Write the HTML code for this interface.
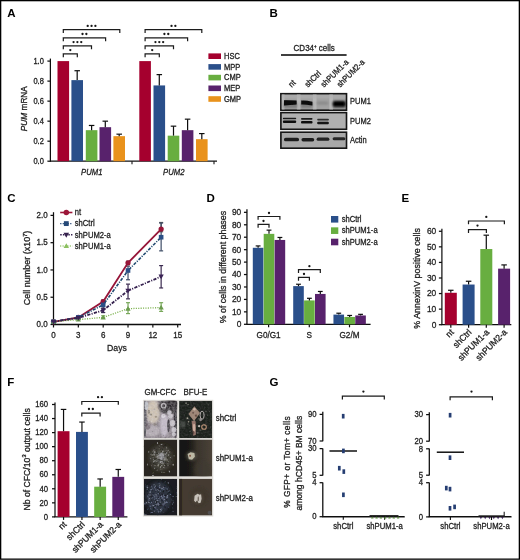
<!DOCTYPE html>
<html><head><meta charset="utf-8"><style>html,body{margin:0;padding:0;background:#fff;}svg{display:block;}</style></head>
<body>
<svg width="520" height="560" viewBox="0 0 520 560" font-family='"Liberation Sans", sans-serif'>
<defs><filter id="b05" x="-50%" y="-50%" width="200%" height="200%"><feGaussianBlur stdDeviation="0.45"/></filter><filter id="b1" x="-50%" y="-50%" width="200%" height="200%"><feGaussianBlur stdDeviation="0.7"/></filter><filter id="b12" x="-50%" y="-50%" width="200%" height="200%"><feGaussianBlur stdDeviation="0.85"/></filter><filter id="b15" x="-50%" y="-50%" width="200%" height="200%"><feGaussianBlur stdDeviation="1.1"/></filter><filter id="b2" x="-50%" y="-50%" width="200%" height="200%"><feGaussianBlur stdDeviation="1.6"/></filter><filter id="b3" x="-50%" y="-50%" width="200%" height="200%"><feGaussianBlur stdDeviation="3"/></filter><filter id="nz" x="0" y="0" width="100%" height="100%"><feTurbulence type="fractalNoise" baseFrequency="0.45" numOctaves="2" seed="5"/><feColorMatrix type="matrix" values="0 0 0 0 0.5  0 0 0 0 0.48  0 0 0 0 0.5  1.6 0 0 0 -0.55"/></filter><filter id="nz2" x="0" y="0" width="100%" height="100%"><feTurbulence type="fractalNoise" baseFrequency="0.5" numOctaves="2" seed="9"/><feColorMatrix type="matrix" values="0 0 0 0 0.92  0 0 0 0 0.9  0 0 0 0 0.92  1.6 0 0 0 -0.62"/></filter><filter id="gb" x="0" y="0" width="520" height="560" filterUnits="userSpaceOnUse"><feGaussianBlur stdDeviation="0.35"/></filter></defs>
<rect x="0.00" y="0.00" width="520.00" height="560.00" fill="#fff" />
<g filter="url(#gb)">
<text x="7.30" y="16.90" font-size="11.5" text-anchor="start" fill="#000" font-weight="bold" >A</text>
<line x1="50.40" y1="58.60" x2="50.40" y2="161.70" stroke="#111" stroke-width="1.25" />
<line x1="47.40" y1="161.20" x2="50.40" y2="161.20" stroke="#111" stroke-width="1.25" />
<text transform="translate(43.80,163.80) scale(0.885,1)" font-size="8.47" text-anchor="end" fill="#1e1e1e" stroke="#1e1e1e" stroke-width="0.3" >0.0</text>
<line x1="47.40" y1="141.18" x2="50.40" y2="141.18" stroke="#111" stroke-width="1.25" />
<text transform="translate(43.80,143.78) scale(0.885,1)" font-size="8.47" text-anchor="end" fill="#1e1e1e" stroke="#1e1e1e" stroke-width="0.3" >0.2</text>
<line x1="47.40" y1="121.16" x2="50.40" y2="121.16" stroke="#111" stroke-width="1.25" />
<text transform="translate(43.80,123.76) scale(0.885,1)" font-size="8.47" text-anchor="end" fill="#1e1e1e" stroke="#1e1e1e" stroke-width="0.3" >0.4</text>
<line x1="47.40" y1="101.14" x2="50.40" y2="101.14" stroke="#111" stroke-width="1.25" />
<text transform="translate(43.80,103.74) scale(0.885,1)" font-size="8.47" text-anchor="end" fill="#1e1e1e" stroke="#1e1e1e" stroke-width="0.3" >0.6</text>
<line x1="47.40" y1="81.12" x2="50.40" y2="81.12" stroke="#111" stroke-width="1.25" />
<text transform="translate(43.80,83.72) scale(0.885,1)" font-size="8.47" text-anchor="end" fill="#1e1e1e" stroke="#1e1e1e" stroke-width="0.3" >0.8</text>
<line x1="47.40" y1="61.10" x2="50.40" y2="61.10" stroke="#111" stroke-width="1.25" />
<text transform="translate(43.80,63.70) scale(0.885,1)" font-size="8.47" text-anchor="end" fill="#1e1e1e" stroke="#1e1e1e" stroke-width="0.3" >1.0</text>
<line x1="49.90" y1="161.20" x2="217.00" y2="161.20" stroke="#111" stroke-width="1.3" />
<line x1="132.00" y1="161.20" x2="132.00" y2="164.20" stroke="#111" stroke-width="1.1" />
<line x1="214.00" y1="161.20" x2="214.00" y2="164.20" stroke="#111" stroke-width="1.1" />
<text transform="translate(91.80,174.50) scale(0.885,1)" font-size="8.70" text-anchor="middle" fill="#1e1e1e" stroke="#1e1e1e" stroke-width="0.3" font-style="italic">PUM1</text>
<text transform="translate(173.80,174.50) scale(0.885,1)" font-size="8.70" text-anchor="middle" fill="#1e1e1e" stroke="#1e1e1e" stroke-width="0.3" font-style="italic">PUM2</text>
<rect x="57.50" y="61.10" width="11.60" height="100.10" fill="#a5062e" />
<rect x="71.40" y="80.12" width="11.60" height="81.08" fill="#2c508a" />
<line x1="77.20" y1="80.12" x2="77.20" y2="70.71" stroke="#111" stroke-width="1.2" />
<line x1="74.45" y1="70.71" x2="79.95" y2="70.71" stroke="#111" stroke-width="1.2" />
<rect x="85.80" y="130.17" width="11.60" height="31.03" fill="#67ae3f" />
<line x1="91.60" y1="130.17" x2="91.60" y2="125.46" stroke="#111" stroke-width="1.2" />
<line x1="88.85" y1="125.46" x2="94.35" y2="125.46" stroke="#111" stroke-width="1.2" />
<rect x="99.50" y="127.17" width="11.60" height="34.03" fill="#59246c" />
<line x1="105.30" y1="127.17" x2="105.30" y2="121.16" stroke="#111" stroke-width="1.2" />
<line x1="102.55" y1="121.16" x2="108.05" y2="121.16" stroke="#111" stroke-width="1.2" />
<rect x="113.40" y="136.17" width="11.60" height="25.03" fill="#e9921a" />
<line x1="119.20" y1="136.17" x2="119.20" y2="134.17" stroke="#111" stroke-width="1.2" />
<line x1="116.45" y1="134.17" x2="121.95" y2="134.17" stroke="#111" stroke-width="1.2" />
<rect x="139.30" y="61.10" width="11.60" height="100.10" fill="#a5062e" />
<rect x="153.50" y="85.42" width="11.60" height="75.78" fill="#2c508a" />
<line x1="159.30" y1="85.42" x2="159.30" y2="74.61" stroke="#111" stroke-width="1.2" />
<line x1="156.55" y1="74.61" x2="162.05" y2="74.61" stroke="#111" stroke-width="1.2" />
<rect x="167.70" y="135.67" width="11.60" height="25.53" fill="#67ae3f" />
<line x1="173.50" y1="135.67" x2="173.50" y2="126.16" stroke="#111" stroke-width="1.2" />
<line x1="170.75" y1="126.16" x2="176.25" y2="126.16" stroke="#111" stroke-width="1.2" />
<rect x="181.80" y="130.17" width="11.60" height="31.03" fill="#59246c" />
<line x1="187.60" y1="130.17" x2="187.60" y2="119.16" stroke="#111" stroke-width="1.2" />
<line x1="184.85" y1="119.16" x2="190.35" y2="119.16" stroke="#111" stroke-width="1.2" />
<rect x="196.00" y="139.18" width="11.60" height="22.02" fill="#e9921a" />
<line x1="201.80" y1="139.18" x2="201.80" y2="133.57" stroke="#111" stroke-width="1.2" />
<line x1="199.05" y1="133.57" x2="204.55" y2="133.57" stroke="#111" stroke-width="1.2" />
<path d="M63.30 57.30 V53.90 H77.30 V57.30" fill="none" stroke="#1a1a1a" stroke-width="1.2"/>
<circle cx="70.30" cy="50.10" r="1.15" fill="#151515"/>
<path d="M63.30 49.30 V45.90 H91.50 V49.30" fill="none" stroke="#1a1a1a" stroke-width="1.2"/>
<circle cx="73.55" cy="42.10" r="1.15" fill="#151515"/>
<circle cx="77.40" cy="42.10" r="1.15" fill="#151515"/>
<circle cx="81.25" cy="42.10" r="1.15" fill="#151515"/>
<path d="M63.30 41.20 V37.80 H105.60 V41.20" fill="none" stroke="#1a1a1a" stroke-width="1.2"/>
<circle cx="82.52" cy="34.00" r="1.15" fill="#151515"/>
<circle cx="86.37" cy="34.00" r="1.15" fill="#151515"/>
<path d="M63.30 33.10 V29.70 H119.80 V33.10" fill="none" stroke="#1a1a1a" stroke-width="1.2"/>
<circle cx="87.70" cy="25.90" r="1.15" fill="#151515"/>
<circle cx="91.55" cy="25.90" r="1.15" fill="#151515"/>
<circle cx="95.40" cy="25.90" r="1.15" fill="#151515"/>
<path d="M145.10 57.30 V53.90 H159.30 V57.30" fill="none" stroke="#1a1a1a" stroke-width="1.2"/>
<circle cx="152.20" cy="50.10" r="1.15" fill="#151515"/>
<path d="M145.10 49.30 V45.90 H173.50 V49.30" fill="none" stroke="#1a1a1a" stroke-width="1.2"/>
<circle cx="155.45" cy="42.10" r="1.15" fill="#151515"/>
<circle cx="159.30" cy="42.10" r="1.15" fill="#151515"/>
<circle cx="163.15" cy="42.10" r="1.15" fill="#151515"/>
<path d="M145.10 41.20 V37.80 H187.60 V41.20" fill="none" stroke="#1a1a1a" stroke-width="1.2"/>
<circle cx="164.42" cy="34.00" r="1.15" fill="#151515"/>
<circle cx="168.27" cy="34.00" r="1.15" fill="#151515"/>
<path d="M145.10 33.10 V29.70 H201.80 V33.10" fill="none" stroke="#1a1a1a" stroke-width="1.2"/>
<circle cx="171.52" cy="25.90" r="1.15" fill="#151515"/>
<circle cx="175.37" cy="25.90" r="1.15" fill="#151515"/>
<text transform="translate(27.00,108.70) rotate(-90) scale(1.0,1)" font-size="8.30" text-anchor="middle" fill="#1e1e1e" stroke="#1e1e1e" stroke-width="0.3"><tspan font-style="italic">PUM</tspan> mRNA</text>
<rect x="208.40" y="53.40" width="12.60" height="5.60" fill="#a5062e" />
<text transform="translate(224.00,58.90) scale(0.885,1)" font-size="8.47" text-anchor="start" fill="#1e1e1e" stroke="#1e1e1e" stroke-width="0.3" >HSC</text>
<rect x="208.40" y="64.10" width="12.60" height="5.60" fill="#2c508a" />
<text transform="translate(224.00,69.60) scale(0.885,1)" font-size="8.47" text-anchor="start" fill="#1e1e1e" stroke="#1e1e1e" stroke-width="0.3" >MPP</text>
<rect x="208.40" y="74.80" width="12.60" height="5.60" fill="#67ae3f" />
<text transform="translate(224.00,80.30) scale(0.885,1)" font-size="8.47" text-anchor="start" fill="#1e1e1e" stroke="#1e1e1e" stroke-width="0.3" >CMP</text>
<rect x="208.40" y="85.50" width="12.60" height="5.60" fill="#59246c" />
<text transform="translate(224.00,91.00) scale(0.885,1)" font-size="8.47" text-anchor="start" fill="#1e1e1e" stroke="#1e1e1e" stroke-width="0.3" >MEP</text>
<rect x="208.40" y="96.20" width="12.60" height="5.60" fill="#e9921a" />
<text transform="translate(224.00,101.70) scale(0.885,1)" font-size="8.47" text-anchor="start" fill="#1e1e1e" stroke="#1e1e1e" stroke-width="0.3" >GMP</text>
<text x="269.60" y="16.90" font-size="11.5" text-anchor="start" fill="#000" font-weight="bold" >B</text>
<text transform="translate(293.60,51.20) rotate(0) scale(0.885,1)" font-size="9.04" text-anchor="start" fill="#1e1e1e" stroke="#1e1e1e" stroke-width="0.3">CD34<tspan font-size="5" dy="-3">+</tspan><tspan dy="3"> cells</tspan></text>
<line x1="281.00" y1="55.10" x2="346.60" y2="55.10" stroke="#000" stroke-width="1.5" />
<text transform="translate(291.80,87.80) rotate(-45) scale(0.885,1)" font-size="8.47" text-anchor="start" fill="#1e1e1e" stroke="#1e1e1e" stroke-width="0.3">nt</text>
<text transform="translate(307.90,87.80) rotate(-45) scale(0.885,1)" font-size="8.47" text-anchor="start" fill="#1e1e1e" stroke="#1e1e1e" stroke-width="0.3">shCtrl</text>
<text transform="translate(324.10,87.80) rotate(-45) scale(0.885,1)" font-size="8.47" text-anchor="start" fill="#1e1e1e" stroke="#1e1e1e" stroke-width="0.3">shPUM1-a</text>
<text transform="translate(340.20,87.80) rotate(-45) scale(0.885,1)" font-size="8.47" text-anchor="start" fill="#1e1e1e" stroke="#1e1e1e" stroke-width="0.3">shPUM2-a</text>
<rect x="280.90" y="93.70" width="65.60" height="16.50" fill="#a2a2a2" stroke="#121212" stroke-width="1.6"/>
<svg x="281.7" y="94.5" width="64" height="14.9" overflow="hidden">
<rect x="-0.80" y="-2.00" width="3.60" height="20.00" fill="#bdbdbd" opacity="0.8" filter="url(#b1)"/>
<rect x="15.20" y="-2.00" width="3.60" height="20.00" fill="#bdbdbd" opacity="0.8" filter="url(#b1)"/>
<rect x="31.20" y="-2.00" width="3.60" height="20.00" fill="#bdbdbd" opacity="0.8" filter="url(#b1)"/>
<rect x="47.60" y="-2.00" width="3.60" height="20.00" fill="#bdbdbd" opacity="0.8" filter="url(#b1)"/>
<rect x="0.00" y="0.00" width="64.00" height="4.00" fill="#b0b0b0" opacity="0.5" filter="url(#b1)"/>
<rect x="2.00" y="8.00" width="13.50" height="5.50" fill="#6e6e6e" opacity="0.75" filter="url(#b15)"/>
<rect x="19.30" y="8.00" width="11.50" height="5.50" fill="#6e6e6e" opacity="0.75" filter="url(#b15)"/>
<rect x="51.30" y="8.00" width="12.50" height="5.50" fill="#6e6e6e" opacity="0.75" filter="url(#b15)"/>
</svg>
<path d="M284 100.2 Q290 100.0 296.6 100.6 L296.6 104.4 Q290 104.8 284 105.6 Z" fill="#080808" filter="url(#b1)"/>
<path d="M301.2 100.6 Q306 100.2 312.4 101.8 L312.4 105.4 Q306 104.8 301.2 104.6 Z" fill="#0e0e0e" filter="url(#b1)"/>
<rect x="316.80" y="101.60" width="11.60" height="3.20" rx="1.30" fill="#8a8a8a" opacity="1" filter="url(#b12)"/>
<rect x="332.80" y="100.90" width="12.80" height="5.80" rx="2.00" fill="#000000" opacity="1" filter="url(#b12)"/>
<rect x="280.90" y="112.60" width="65.60" height="16.70" fill="#b0b0b0" stroke="#121212" stroke-width="1.6"/>
<rect x="282.90" y="117.65" width="13.30" height="1.70" rx="0.80" fill="#1a1a1a" opacity="1" filter="url(#b1)"/>
<rect x="282.90" y="120.50" width="13.30" height="2.60" rx="1.00" fill="#0a0a0a" opacity="1" filter="url(#b1)"/>
<rect x="301.00" y="118.05" width="11.50" height="1.70" rx="0.80" fill="#1e1e1e" opacity="1" filter="url(#b1)"/>
<rect x="301.00" y="120.90" width="11.50" height="2.60" rx="1.00" fill="#0e0e0e" opacity="1" filter="url(#b1)"/>
<rect x="317.20" y="118.85" width="11.70" height="1.70" rx="0.80" fill="#2e2e2e" opacity="1" filter="url(#b1)"/>
<rect x="317.20" y="121.70" width="11.70" height="2.60" rx="1.00" fill="#161616" opacity="1" filter="url(#b1)"/>
<rect x="280.90" y="132.20" width="65.60" height="16.00" fill="#a8a8a8" stroke="#121212" stroke-width="1.6"/>
<rect x="284.00" y="137.70" width="15.00" height="3.60" rx="1.60" fill="#1e1e1e" opacity="1" filter="url(#b1)"/>
<rect x="301.50" y="137.95" width="12.70" height="3.50" rx="1.60" fill="#1e1e1e" opacity="1" filter="url(#b1)"/>
<rect x="316.60" y="137.55" width="12.80" height="3.30" rx="1.60" fill="#222222" opacity="1" filter="url(#b1)"/>
<rect x="332.60" y="137.15" width="12.80" height="3.10" rx="1.50" fill="#262626" opacity="1" filter="url(#b1)"/>
<text transform="translate(350.00,104.40) scale(0.885,1)" font-size="8.47" text-anchor="start" fill="#1e1e1e" stroke="#1e1e1e" stroke-width="0.3" >PUM1</text>
<text transform="translate(350.00,123.80) scale(0.885,1)" font-size="8.47" text-anchor="start" fill="#1e1e1e" stroke="#1e1e1e" stroke-width="0.3" >PUM2</text>
<text transform="translate(350.00,142.50) scale(0.885,1)" font-size="8.47" text-anchor="start" fill="#1e1e1e" stroke="#1e1e1e" stroke-width="0.3" >Actin</text>
<text x="7.30" y="202.30" font-size="11.5" text-anchor="start" fill="#000" font-weight="bold" >C</text>
<line x1="53.50" y1="212.20" x2="53.50" y2="324.50" stroke="#111" stroke-width="1.25" />
<line x1="50.50" y1="324.50" x2="53.50" y2="324.50" stroke="#111" stroke-width="1.25" />
<text transform="translate(47.60,327.30) scale(0.885,1)" font-size="9.04" text-anchor="end" fill="#1e1e1e" stroke="#1e1e1e" stroke-width="0.3" >0.0</text>
<line x1="50.50" y1="297.23" x2="53.50" y2="297.23" stroke="#111" stroke-width="1.25" />
<text transform="translate(47.60,300.03) scale(0.885,1)" font-size="9.04" text-anchor="end" fill="#1e1e1e" stroke="#1e1e1e" stroke-width="0.3" >0.5</text>
<line x1="50.50" y1="269.95" x2="53.50" y2="269.95" stroke="#111" stroke-width="1.25" />
<text transform="translate(47.60,272.75) scale(0.885,1)" font-size="9.04" text-anchor="end" fill="#1e1e1e" stroke="#1e1e1e" stroke-width="0.3" >1.0</text>
<line x1="50.50" y1="242.68" x2="53.50" y2="242.68" stroke="#111" stroke-width="1.25" />
<text transform="translate(47.60,245.48) scale(0.885,1)" font-size="9.04" text-anchor="end" fill="#1e1e1e" stroke="#1e1e1e" stroke-width="0.3" >1.5</text>
<line x1="50.50" y1="215.40" x2="53.50" y2="215.40" stroke="#111" stroke-width="1.25" />
<text transform="translate(47.60,218.20) scale(0.885,1)" font-size="9.04" text-anchor="end" fill="#1e1e1e" stroke="#1e1e1e" stroke-width="0.3" >2.0</text>
<line x1="52.90" y1="324.50" x2="181.00" y2="324.50" stroke="#111" stroke-width="1.3" />
<line x1="53.50" y1="324.50" x2="53.50" y2="327.50" stroke="#111" stroke-width="1.2" />
<text transform="translate(53.50,337.80) scale(0.885,1)" font-size="9.04" text-anchor="middle" fill="#1e1e1e" stroke="#1e1e1e" stroke-width="0.3" >0</text>
<line x1="78.34" y1="324.50" x2="78.34" y2="327.50" stroke="#111" stroke-width="1.2" />
<text transform="translate(78.34,337.80) scale(0.885,1)" font-size="9.04" text-anchor="middle" fill="#1e1e1e" stroke="#1e1e1e" stroke-width="0.3" >3</text>
<line x1="103.18" y1="324.50" x2="103.18" y2="327.50" stroke="#111" stroke-width="1.2" />
<text transform="translate(103.18,337.80) scale(0.885,1)" font-size="9.04" text-anchor="middle" fill="#1e1e1e" stroke="#1e1e1e" stroke-width="0.3" >6</text>
<line x1="128.02" y1="324.50" x2="128.02" y2="327.50" stroke="#111" stroke-width="1.2" />
<text transform="translate(128.02,337.80) scale(0.885,1)" font-size="9.04" text-anchor="middle" fill="#1e1e1e" stroke="#1e1e1e" stroke-width="0.3" >9</text>
<line x1="152.86" y1="324.50" x2="152.86" y2="327.50" stroke="#111" stroke-width="1.2" />
<text transform="translate(152.86,337.80) scale(0.885,1)" font-size="9.04" text-anchor="middle" fill="#1e1e1e" stroke="#1e1e1e" stroke-width="0.3" >12</text>
<line x1="177.70" y1="324.50" x2="177.70" y2="327.50" stroke="#111" stroke-width="1.2" />
<text transform="translate(177.70,337.80) scale(0.885,1)" font-size="9.04" text-anchor="middle" fill="#1e1e1e" stroke="#1e1e1e" stroke-width="0.3" >15</text>
<text transform="translate(117.00,351.30) scale(0.885,1)" font-size="9.83" text-anchor="middle" fill="#1e1e1e" stroke="#1e1e1e" stroke-width="0.3" >Days</text>
<text transform="translate(30.40,268.00) rotate(-90) scale(1.0,1)" font-size="9.00" text-anchor="middle" fill="#1e1e1e" stroke="#1e1e1e" stroke-width="0.3">Cell number (x10<tspan font-size="5.6" dy="-3.6">7</tspan><tspan dy="3.6">)</tspan></text>
<line x1="103.18" y1="302.68" x2="103.18" y2="299.95" stroke="#555" stroke-width="1.2" />
<line x1="101.18" y1="302.68" x2="105.18" y2="302.68" stroke="#555" stroke-width="1.2" />
<line x1="101.18" y1="299.95" x2="105.18" y2="299.95" stroke="#555" stroke-width="1.2" />
<line x1="128.02" y1="264.50" x2="128.02" y2="261.22" stroke="#555" stroke-width="1.2" />
<line x1="126.02" y1="264.50" x2="130.02" y2="264.50" stroke="#555" stroke-width="1.2" />
<line x1="126.02" y1="261.22" x2="130.02" y2="261.22" stroke="#555" stroke-width="1.2" />
<line x1="161.14" y1="231.76" x2="161.14" y2="222.49" stroke="#555" stroke-width="1.2" />
<line x1="159.14" y1="231.76" x2="163.14" y2="231.76" stroke="#555" stroke-width="1.2" />
<line x1="159.14" y1="222.49" x2="163.14" y2="222.49" stroke="#555" stroke-width="1.2" />
<line x1="103.18" y1="312.50" x2="103.18" y2="300.50" stroke="#3e4c66" stroke-width="1.2" />
<line x1="101.18" y1="312.50" x2="105.18" y2="312.50" stroke="#3e4c66" stroke-width="1.2" />
<line x1="101.18" y1="300.50" x2="105.18" y2="300.50" stroke="#3e4c66" stroke-width="1.2" />
<line x1="128.02" y1="279.77" x2="128.02" y2="266.13" stroke="#3e4c66" stroke-width="1.2" />
<line x1="126.02" y1="279.77" x2="130.02" y2="279.77" stroke="#3e4c66" stroke-width="1.2" />
<line x1="126.02" y1="266.13" x2="130.02" y2="266.13" stroke="#3e4c66" stroke-width="1.2" />
<line x1="161.14" y1="250.86" x2="161.14" y2="223.04" stroke="#3e4c66" stroke-width="1.2" />
<line x1="159.14" y1="250.86" x2="163.14" y2="250.86" stroke="#3e4c66" stroke-width="1.2" />
<line x1="159.14" y1="223.04" x2="163.14" y2="223.04" stroke="#3e4c66" stroke-width="1.2" />
<line x1="103.18" y1="317.95" x2="103.18" y2="315.77" stroke="#78a85a" stroke-width="1.2" />
<line x1="101.18" y1="317.95" x2="105.18" y2="317.95" stroke="#78a85a" stroke-width="1.2" />
<line x1="101.18" y1="315.77" x2="105.18" y2="315.77" stroke="#78a85a" stroke-width="1.2" />
<line x1="128.02" y1="313.59" x2="128.02" y2="302.68" stroke="#78a85a" stroke-width="1.2" />
<line x1="126.02" y1="313.59" x2="130.02" y2="313.59" stroke="#78a85a" stroke-width="1.2" />
<line x1="126.02" y1="302.68" x2="130.02" y2="302.68" stroke="#78a85a" stroke-width="1.2" />
<line x1="161.14" y1="311.41" x2="161.14" y2="302.68" stroke="#78a85a" stroke-width="1.2" />
<line x1="159.14" y1="311.41" x2="163.14" y2="311.41" stroke="#78a85a" stroke-width="1.2" />
<line x1="159.14" y1="302.68" x2="163.14" y2="302.68" stroke="#78a85a" stroke-width="1.2" />
<line x1="103.18" y1="312.50" x2="103.18" y2="308.13" stroke="#3a2a50" stroke-width="1.2" />
<line x1="101.18" y1="312.50" x2="105.18" y2="312.50" stroke="#3a2a50" stroke-width="1.2" />
<line x1="101.18" y1="308.13" x2="105.18" y2="308.13" stroke="#3a2a50" stroke-width="1.2" />
<line x1="128.02" y1="298.86" x2="128.02" y2="284.13" stroke="#3a2a50" stroke-width="1.2" />
<line x1="126.02" y1="298.86" x2="130.02" y2="298.86" stroke="#3a2a50" stroke-width="1.2" />
<line x1="126.02" y1="284.13" x2="130.02" y2="284.13" stroke="#3a2a50" stroke-width="1.2" />
<line x1="161.14" y1="287.95" x2="161.14" y2="265.59" stroke="#3a2a50" stroke-width="1.2" />
<line x1="159.14" y1="287.95" x2="163.14" y2="287.95" stroke="#3a2a50" stroke-width="1.2" />
<line x1="159.14" y1="265.59" x2="163.14" y2="265.59" stroke="#3a2a50" stroke-width="1.2" />
<polyline points="53.50,321.77 78.34,317.41 103.18,301.59 128.02,262.86 161.14,229.04" fill="none" stroke="#961438" stroke-width="1.8" />
<circle cx="53.50" cy="321.77" r="2.62" fill="#961438"/>
<circle cx="78.34" cy="317.41" r="2.62" fill="#961438"/>
<circle cx="103.18" cy="301.59" r="2.62" fill="#961438"/>
<circle cx="128.02" cy="262.86" r="2.62" fill="#961438"/>
<circle cx="161.14" cy="229.04" r="2.62" fill="#961438"/>
<polyline points="53.50,321.77 78.34,317.41 103.18,304.86 128.02,270.50 161.14,237.22" fill="none" stroke="#214a70" stroke-width="1.6" stroke-dasharray="3.2 1.3 1.1 1.3"/>
<rect x="51.19" y="319.46" width="4.62" height="4.62" fill="#2a4f86"/>
<rect x="76.03" y="315.10" width="4.62" height="4.62" fill="#2a4f86"/>
<rect x="100.87" y="302.55" width="4.62" height="4.62" fill="#2a4f86"/>
<rect x="125.71" y="268.19" width="4.62" height="4.62" fill="#2a4f86"/>
<rect x="158.83" y="234.91" width="4.62" height="4.62" fill="#2a4f86"/>
<polyline points="53.50,321.77 78.34,319.59 103.18,317.41 128.02,308.68 161.14,307.59" fill="none" stroke="#7cb24e" stroke-width="1.3" stroke-dasharray="1.1 1.3"/>
<path d="M53.50 319.04 L56.12 323.77 L50.88 323.77Z" fill="#6a9a4e"/>
<path d="M78.34 316.86 L80.97 321.59 L75.72 321.59Z" fill="#6a9a4e"/>
<path d="M103.18 314.68 L105.80 319.40 L100.55 319.40Z" fill="#6a9a4e"/>
<path d="M128.02 305.95 L130.64 310.68 L125.39 310.68Z" fill="#6a9a4e"/>
<path d="M161.14 304.86 L163.76 309.58 L158.51 309.58Z" fill="#6a9a4e"/>
<polyline points="53.50,321.77 78.34,317.95 103.18,310.32 128.02,290.68 161.14,276.50" fill="none" stroke="#35204e" stroke-width="1.8" stroke-dasharray="3.2 1.3 1.1 1.3"/>
<path d="M53.50 324.50 L56.12 319.78 L50.88 319.78Z" fill="#3a2256"/>
<path d="M78.34 320.68 L80.97 315.96 L75.72 315.96Z" fill="#3a2256"/>
<path d="M103.18 313.05 L105.80 308.32 L100.55 308.32Z" fill="#3a2256"/>
<path d="M128.02 293.41 L130.64 288.68 L125.39 288.68Z" fill="#3a2256"/>
<path d="M161.14 279.23 L163.76 274.50 L158.51 274.50Z" fill="#3a2256"/>
<line x1="60.2" y1="212.5" x2="72.4" y2="212.5" stroke="#9c1438" stroke-width="1.6" />
<circle cx="66.30" cy="212.50" r="2.75" fill="#9c1438"/>
<text transform="translate(74.80,215.20) scale(0.885,1)" font-size="8.59" text-anchor="start" fill="#1e1e1e" stroke="#1e1e1e" stroke-width="0.3" >nt</text>
<line x1="60.2" y1="223.6" x2="72.4" y2="223.6" stroke="#274878" stroke-width="1.4" stroke-dasharray="1.2 1.3"/>
<rect x="63.88" y="221.18" width="4.84" height="4.84" fill="#274878"/>
<text transform="translate(74.80,226.30) scale(0.885,1)" font-size="8.59" text-anchor="start" fill="#1e1e1e" stroke="#1e1e1e" stroke-width="0.3" >shCtrl</text>
<line x1="60.2" y1="234.8" x2="72.4" y2="234.8" stroke="#35204e" stroke-width="1.5" stroke-dasharray="1.5 1.2"/>
<path d="M66.30 237.66 L69.05 232.71 L63.55 232.71Z" fill="#35204e"/>
<text transform="translate(74.80,237.50) scale(0.885,1)" font-size="8.59" text-anchor="start" fill="#1e1e1e" stroke="#1e1e1e" stroke-width="0.3" >shPUM2-a</text>
<line x1="60.2" y1="246.0" x2="72.4" y2="246.0" stroke="#8cc060" stroke-width="1.3" stroke-dasharray="1 1.4"/>
<path d="M66.30 243.14 L69.05 248.09 L63.55 248.09Z" fill="#8cc060"/>
<text transform="translate(74.80,248.70) scale(0.885,1)" font-size="8.59" text-anchor="start" fill="#1e1e1e" stroke="#1e1e1e" stroke-width="0.3" >shPUM1-a</text>
<text x="206.50" y="201.80" font-size="11.5" text-anchor="start" fill="#000" font-weight="bold" >D</text>
<line x1="246.95" y1="209.30" x2="246.95" y2="324.30" stroke="#111" stroke-width="1.3" />
<line x1="243.95" y1="324.30" x2="246.95" y2="324.30" stroke="#111" stroke-width="1.25" />
<text transform="translate(241.30,327.20) scale(0.885,1)" font-size="9.49" text-anchor="end" fill="#1e1e1e" stroke="#1e1e1e" stroke-width="0.3" >0</text>
<line x1="243.95" y1="311.86" x2="246.95" y2="311.86" stroke="#111" stroke-width="1.25" />
<text transform="translate(241.30,314.76) scale(0.885,1)" font-size="9.49" text-anchor="end" fill="#1e1e1e" stroke="#1e1e1e" stroke-width="0.3" >10</text>
<line x1="243.95" y1="299.42" x2="246.95" y2="299.42" stroke="#111" stroke-width="1.25" />
<text transform="translate(241.30,302.32) scale(0.885,1)" font-size="9.49" text-anchor="end" fill="#1e1e1e" stroke="#1e1e1e" stroke-width="0.3" >20</text>
<line x1="243.95" y1="286.98" x2="246.95" y2="286.98" stroke="#111" stroke-width="1.25" />
<text transform="translate(241.30,289.88) scale(0.885,1)" font-size="9.49" text-anchor="end" fill="#1e1e1e" stroke="#1e1e1e" stroke-width="0.3" >30</text>
<line x1="243.95" y1="274.54" x2="246.95" y2="274.54" stroke="#111" stroke-width="1.25" />
<text transform="translate(241.30,277.44) scale(0.885,1)" font-size="9.49" text-anchor="end" fill="#1e1e1e" stroke="#1e1e1e" stroke-width="0.3" >40</text>
<line x1="243.95" y1="262.10" x2="246.95" y2="262.10" stroke="#111" stroke-width="1.25" />
<text transform="translate(241.30,265.00) scale(0.885,1)" font-size="9.49" text-anchor="end" fill="#1e1e1e" stroke="#1e1e1e" stroke-width="0.3" >50</text>
<line x1="243.95" y1="249.66" x2="246.95" y2="249.66" stroke="#111" stroke-width="1.25" />
<text transform="translate(241.30,252.56) scale(0.885,1)" font-size="9.49" text-anchor="end" fill="#1e1e1e" stroke="#1e1e1e" stroke-width="0.3" >60</text>
<line x1="243.95" y1="237.22" x2="246.95" y2="237.22" stroke="#111" stroke-width="1.25" />
<text transform="translate(241.30,240.12) scale(0.885,1)" font-size="9.49" text-anchor="end" fill="#1e1e1e" stroke="#1e1e1e" stroke-width="0.3" >70</text>
<line x1="243.95" y1="224.78" x2="246.95" y2="224.78" stroke="#111" stroke-width="1.25" />
<text transform="translate(241.30,227.68) scale(0.885,1)" font-size="9.49" text-anchor="end" fill="#1e1e1e" stroke="#1e1e1e" stroke-width="0.3" >80</text>
<line x1="243.95" y1="212.34" x2="246.95" y2="212.34" stroke="#111" stroke-width="1.25" />
<text transform="translate(241.30,215.24) scale(0.885,1)" font-size="9.49" text-anchor="end" fill="#1e1e1e" stroke="#1e1e1e" stroke-width="0.3" >90</text>
<line x1="246.35" y1="324.30" x2="370.60" y2="324.30" stroke="#111" stroke-width="1.3" />
<line x1="268.60" y1="324.30" x2="268.60" y2="327.30" stroke="#111" stroke-width="1.2" />
<text transform="translate(268.60,337.90) scale(0.885,1)" font-size="9.27" text-anchor="middle" fill="#1e1e1e" stroke="#1e1e1e" stroke-width="0.3" >G0/G1</text>
<rect x="252.80" y="247.79" width="10.60" height="76.51" fill="#2c508a" />
<line x1="258.10" y1="247.79" x2="258.10" y2="245.93" stroke="#111" stroke-width="1.2" />
<line x1="255.70" y1="245.93" x2="260.50" y2="245.93" stroke="#111" stroke-width="1.2" />
<rect x="263.70" y="233.86" width="10.60" height="90.44" fill="#67ae3f" />
<line x1="269.00" y1="233.86" x2="269.00" y2="230.13" stroke="#111" stroke-width="1.2" />
<line x1="266.60" y1="230.13" x2="271.40" y2="230.13" stroke="#111" stroke-width="1.2" />
<rect x="274.60" y="239.96" width="10.60" height="84.34" fill="#59246c" />
<line x1="279.90" y1="239.96" x2="279.90" y2="237.47" stroke="#111" stroke-width="1.2" />
<line x1="277.50" y1="237.47" x2="282.30" y2="237.47" stroke="#111" stroke-width="1.2" />
<line x1="309.30" y1="324.30" x2="309.30" y2="327.30" stroke="#111" stroke-width="1.2" />
<text transform="translate(309.30,337.90) scale(0.885,1)" font-size="9.27" text-anchor="middle" fill="#1e1e1e" stroke="#1e1e1e" stroke-width="0.3" >S</text>
<rect x="293.20" y="286.11" width="10.60" height="38.19" fill="#2c508a" />
<line x1="298.50" y1="286.11" x2="298.50" y2="284.24" stroke="#111" stroke-width="1.2" />
<line x1="296.10" y1="284.24" x2="300.90" y2="284.24" stroke="#111" stroke-width="1.2" />
<rect x="304.10" y="300.42" width="10.60" height="23.88" fill="#67ae3f" />
<line x1="309.40" y1="300.42" x2="309.40" y2="298.30" stroke="#111" stroke-width="1.2" />
<line x1="307.00" y1="298.30" x2="311.80" y2="298.30" stroke="#111" stroke-width="1.2" />
<rect x="315.00" y="293.95" width="10.60" height="30.35" fill="#59246c" />
<line x1="320.30" y1="293.95" x2="320.30" y2="291.46" stroke="#111" stroke-width="1.2" />
<line x1="317.90" y1="291.46" x2="322.70" y2="291.46" stroke="#111" stroke-width="1.2" />
<line x1="349.50" y1="324.30" x2="349.50" y2="327.30" stroke="#111" stroke-width="1.2" />
<text transform="translate(349.50,337.90) scale(0.885,1)" font-size="9.27" text-anchor="middle" fill="#1e1e1e" stroke="#1e1e1e" stroke-width="0.3" >G2/M</text>
<rect x="333.45" y="314.60" width="10.60" height="9.70" fill="#2c508a" />
<line x1="338.75" y1="314.60" x2="338.75" y2="313.23" stroke="#111" stroke-width="1.2" />
<line x1="336.35" y1="313.23" x2="341.15" y2="313.23" stroke="#111" stroke-width="1.2" />
<rect x="344.35" y="316.96" width="10.60" height="7.34" fill="#67ae3f" />
<line x1="349.65" y1="316.96" x2="349.65" y2="315.47" stroke="#111" stroke-width="1.2" />
<line x1="347.25" y1="315.47" x2="352.05" y2="315.47" stroke="#111" stroke-width="1.2" />
<rect x="355.25" y="315.47" width="10.60" height="8.83" fill="#59246c" />
<line x1="360.55" y1="315.47" x2="360.55" y2="314.35" stroke="#111" stroke-width="1.2" />
<line x1="358.15" y1="314.35" x2="362.95" y2="314.35" stroke="#111" stroke-width="1.2" />
<path d="M258.10 227.70 V224.40 H269.00 V227.70" fill="none" stroke="#1a1a1a" stroke-width="1.2"/>
<circle cx="263.50" cy="221.00" r="1.15" fill="#151515"/>
<path d="M258.10 219.80 V216.50 H279.90 V219.80" fill="none" stroke="#1a1a1a" stroke-width="1.2"/>
<circle cx="269.00" cy="213.00" r="1.15" fill="#151515"/>
<path d="M298.50 280.70 V277.40 H309.40 V280.70" fill="none" stroke="#1a1a1a" stroke-width="1.2"/>
<circle cx="304.00" cy="274.00" r="1.15" fill="#151515"/>
<path d="M298.50 273.00 V269.70 H320.30 V273.00" fill="none" stroke="#1a1a1a" stroke-width="1.2"/>
<circle cx="309.40" cy="266.20" r="1.15" fill="#151515"/>
<text transform="translate(226.30,267.10) rotate(-90) scale(1.0,1)" font-size="8.85" text-anchor="middle" fill="#1e1e1e" stroke="#1e1e1e" stroke-width="0.3">% of cells in different phases</text>
<rect x="331.00" y="216.00" width="7.30" height="6.60" fill="#2c508a" />
<text transform="translate(341.70,222.00) scale(0.885,1)" font-size="8.59" text-anchor="start" fill="#1e1e1e" stroke="#1e1e1e" stroke-width="0.3" >shCtrl</text>
<rect x="331.00" y="227.35" width="7.30" height="6.60" fill="#67ae3f" />
<text transform="translate(341.70,233.35) scale(0.885,1)" font-size="8.59" text-anchor="start" fill="#1e1e1e" stroke="#1e1e1e" stroke-width="0.3" >shPUM1-a</text>
<rect x="331.00" y="238.70" width="7.30" height="6.60" fill="#59246c" />
<text transform="translate(341.70,244.70) scale(0.885,1)" font-size="8.59" text-anchor="start" fill="#1e1e1e" stroke="#1e1e1e" stroke-width="0.3" >shPUM2-a</text>
<text x="401.60" y="202.10" font-size="11.5" text-anchor="start" fill="#000" font-weight="bold" >E</text>
<line x1="441.90" y1="228.70" x2="441.90" y2="324.70" stroke="#111" stroke-width="1.25" />
<line x1="438.90" y1="324.70" x2="441.90" y2="324.70" stroke="#111" stroke-width="1.25" />
<text transform="translate(436.30,327.60) scale(0.885,1)" font-size="9.49" text-anchor="end" fill="#1e1e1e" stroke="#1e1e1e" stroke-width="0.3" >0</text>
<line x1="438.90" y1="309.13" x2="441.90" y2="309.13" stroke="#111" stroke-width="1.25" />
<text transform="translate(436.30,312.03) scale(0.885,1)" font-size="9.49" text-anchor="end" fill="#1e1e1e" stroke="#1e1e1e" stroke-width="0.3" >10</text>
<line x1="438.90" y1="293.56" x2="441.90" y2="293.56" stroke="#111" stroke-width="1.25" />
<text transform="translate(436.30,296.46) scale(0.885,1)" font-size="9.49" text-anchor="end" fill="#1e1e1e" stroke="#1e1e1e" stroke-width="0.3" >20</text>
<line x1="438.90" y1="277.99" x2="441.90" y2="277.99" stroke="#111" stroke-width="1.25" />
<text transform="translate(436.30,280.89) scale(0.885,1)" font-size="9.49" text-anchor="end" fill="#1e1e1e" stroke="#1e1e1e" stroke-width="0.3" >30</text>
<line x1="438.90" y1="262.42" x2="441.90" y2="262.42" stroke="#111" stroke-width="1.25" />
<text transform="translate(436.30,265.32) scale(0.885,1)" font-size="9.49" text-anchor="end" fill="#1e1e1e" stroke="#1e1e1e" stroke-width="0.3" >40</text>
<line x1="438.90" y1="246.85" x2="441.90" y2="246.85" stroke="#111" stroke-width="1.25" />
<text transform="translate(436.30,249.75) scale(0.885,1)" font-size="9.49" text-anchor="end" fill="#1e1e1e" stroke="#1e1e1e" stroke-width="0.3" >50</text>
<line x1="438.90" y1="231.28" x2="441.90" y2="231.28" stroke="#111" stroke-width="1.25" />
<text transform="translate(436.30,234.18) scale(0.885,1)" font-size="9.49" text-anchor="end" fill="#1e1e1e" stroke="#1e1e1e" stroke-width="0.3" >60</text>
<line x1="441.30" y1="324.70" x2="511.30" y2="324.70" stroke="#111" stroke-width="1.3" />
<rect x="444.80" y="292.78" width="12.00" height="31.92" fill="#a5062e" />
<line x1="450.80" y1="292.78" x2="450.80" y2="290.29" stroke="#111" stroke-width="1.2" />
<line x1="448.05" y1="290.29" x2="453.55" y2="290.29" stroke="#111" stroke-width="1.2" />
<line x1="450.80" y1="324.70" x2="450.80" y2="327.70" stroke="#111" stroke-width="1.2" />
<text transform="translate(454.30,332.90) rotate(-45) scale(0.95,1)" font-size="8.93" text-anchor="end" fill="#1e1e1e" stroke="#1e1e1e" stroke-width="0.3">nt</text>
<rect x="462.60" y="284.53" width="12.00" height="40.17" fill="#2c508a" />
<line x1="468.60" y1="284.53" x2="468.60" y2="281.26" stroke="#111" stroke-width="1.2" />
<line x1="465.85" y1="281.26" x2="471.35" y2="281.26" stroke="#111" stroke-width="1.2" />
<line x1="468.60" y1="324.70" x2="468.60" y2="327.70" stroke="#111" stroke-width="1.2" />
<text transform="translate(472.10,332.90) rotate(-45) scale(0.95,1)" font-size="8.93" text-anchor="end" fill="#1e1e1e" stroke="#1e1e1e" stroke-width="0.3">shCtrl</text>
<rect x="480.30" y="249.03" width="12.00" height="75.67" fill="#67ae3f" />
<line x1="486.30" y1="249.03" x2="486.30" y2="235.17" stroke="#111" stroke-width="1.2" />
<line x1="483.55" y1="235.17" x2="489.05" y2="235.17" stroke="#111" stroke-width="1.2" />
<line x1="486.30" y1="324.70" x2="486.30" y2="327.70" stroke="#111" stroke-width="1.2" />
<text transform="translate(489.80,332.90) rotate(-45) scale(0.95,1)" font-size="8.93" text-anchor="end" fill="#1e1e1e" stroke="#1e1e1e" stroke-width="0.3">shPUM1-a</text>
<rect x="498.10" y="268.65" width="12.00" height="56.05" fill="#59246c" />
<line x1="504.10" y1="268.65" x2="504.10" y2="264.91" stroke="#111" stroke-width="1.2" />
<line x1="501.35" y1="264.91" x2="506.85" y2="264.91" stroke="#111" stroke-width="1.2" />
<line x1="504.10" y1="324.70" x2="504.10" y2="327.70" stroke="#111" stroke-width="1.2" />
<text transform="translate(507.60,332.90) rotate(-45) scale(0.95,1)" font-size="8.93" text-anchor="end" fill="#1e1e1e" stroke="#1e1e1e" stroke-width="0.3">shPUM2-a</text>
<path d="M468.50 232.90 V229.60 H486.40 V232.90" fill="none" stroke="#1a1a1a" stroke-width="1.2"/>
<circle cx="477.50" cy="225.60" r="1.15" fill="#151515"/>
<path d="M468.50 224.30 V221.00 H504.40 V224.30" fill="none" stroke="#1a1a1a" stroke-width="1.2"/>
<circle cx="486.30" cy="216.90" r="1.15" fill="#151515"/>
<text transform="translate(420.10,278.40) rotate(-90) scale(1.0,1)" font-size="8.90" text-anchor="middle" fill="#1e1e1e" stroke="#1e1e1e" stroke-width="0.3">% AnnexinV positive cells</text>
<text x="7.30" y="386.10" font-size="11.5" text-anchor="start" fill="#000" font-weight="bold" >F</text>
<line x1="55.00" y1="402.60" x2="55.00" y2="516.90" stroke="#111" stroke-width="1.25" />
<line x1="52.00" y1="516.90" x2="55.00" y2="516.90" stroke="#111" stroke-width="1.25" />
<text transform="translate(48.00,519.60) scale(0.885,1)" font-size="8.70" text-anchor="end" fill="#1e1e1e" stroke="#1e1e1e" stroke-width="0.3" >0</text>
<line x1="52.00" y1="502.85" x2="55.00" y2="502.85" stroke="#111" stroke-width="1.25" />
<text transform="translate(48.00,505.55) scale(0.885,1)" font-size="8.70" text-anchor="end" fill="#1e1e1e" stroke="#1e1e1e" stroke-width="0.3" >20</text>
<line x1="52.00" y1="488.80" x2="55.00" y2="488.80" stroke="#111" stroke-width="1.25" />
<text transform="translate(48.00,491.50) scale(0.885,1)" font-size="8.70" text-anchor="end" fill="#1e1e1e" stroke="#1e1e1e" stroke-width="0.3" >40</text>
<line x1="52.00" y1="474.75" x2="55.00" y2="474.75" stroke="#111" stroke-width="1.25" />
<text transform="translate(48.00,477.45) scale(0.885,1)" font-size="8.70" text-anchor="end" fill="#1e1e1e" stroke="#1e1e1e" stroke-width="0.3" >60</text>
<line x1="52.00" y1="460.70" x2="55.00" y2="460.70" stroke="#111" stroke-width="1.25" />
<text transform="translate(48.00,463.40) scale(0.885,1)" font-size="8.70" text-anchor="end" fill="#1e1e1e" stroke="#1e1e1e" stroke-width="0.3" >80</text>
<line x1="52.00" y1="446.65" x2="55.00" y2="446.65" stroke="#111" stroke-width="1.25" />
<text transform="translate(48.00,449.35) scale(0.885,1)" font-size="8.70" text-anchor="end" fill="#1e1e1e" stroke="#1e1e1e" stroke-width="0.3" >100</text>
<line x1="52.00" y1="432.60" x2="55.00" y2="432.60" stroke="#111" stroke-width="1.25" />
<text transform="translate(48.00,435.30) scale(0.885,1)" font-size="8.70" text-anchor="end" fill="#1e1e1e" stroke="#1e1e1e" stroke-width="0.3" >120</text>
<line x1="52.00" y1="418.55" x2="55.00" y2="418.55" stroke="#111" stroke-width="1.25" />
<text transform="translate(48.00,421.25) scale(0.885,1)" font-size="8.70" text-anchor="end" fill="#1e1e1e" stroke="#1e1e1e" stroke-width="0.3" >140</text>
<line x1="52.00" y1="404.50" x2="55.00" y2="404.50" stroke="#111" stroke-width="1.25" />
<text transform="translate(48.00,407.20) scale(0.885,1)" font-size="8.70" text-anchor="end" fill="#1e1e1e" stroke="#1e1e1e" stroke-width="0.3" >160</text>
<line x1="54.40" y1="516.90" x2="127.40" y2="516.90" stroke="#111" stroke-width="1.3" />
<rect x="57.60" y="431.19" width="11.90" height="85.70" fill="#a5062e" />
<line x1="63.55" y1="431.19" x2="63.55" y2="409.42" stroke="#111" stroke-width="1.2" />
<line x1="60.80" y1="409.42" x2="66.30" y2="409.42" stroke="#111" stroke-width="1.2" />
<line x1="63.55" y1="516.90" x2="63.55" y2="519.90" stroke="#111" stroke-width="1.2" />
<text transform="translate(67.05,525.10) rotate(-45) scale(0.95,1)" font-size="8.93" text-anchor="end" fill="#1e1e1e" stroke="#1e1e1e" stroke-width="0.3">nt</text>
<rect x="76.00" y="431.90" width="11.90" height="85.00" fill="#2c508a" />
<line x1="81.95" y1="431.90" x2="81.95" y2="422.06" stroke="#111" stroke-width="1.2" />
<line x1="79.20" y1="422.06" x2="84.70" y2="422.06" stroke="#111" stroke-width="1.2" />
<line x1="81.95" y1="516.90" x2="81.95" y2="519.90" stroke="#111" stroke-width="1.2" />
<text transform="translate(85.45,525.10) rotate(-45) scale(0.95,1)" font-size="8.93" text-anchor="end" fill="#1e1e1e" stroke="#1e1e1e" stroke-width="0.3">shCtrl</text>
<rect x="94.20" y="486.69" width="11.90" height="30.21" fill="#67ae3f" />
<line x1="100.15" y1="486.69" x2="100.15" y2="478.96" stroke="#111" stroke-width="1.2" />
<line x1="97.40" y1="478.96" x2="102.90" y2="478.96" stroke="#111" stroke-width="1.2" />
<line x1="100.15" y1="516.90" x2="100.15" y2="519.90" stroke="#111" stroke-width="1.2" />
<text transform="translate(103.65,525.10) rotate(-45) scale(0.95,1)" font-size="8.93" text-anchor="end" fill="#1e1e1e" stroke="#1e1e1e" stroke-width="0.3">shPUM1-a</text>
<rect x="112.30" y="476.86" width="11.90" height="40.04" fill="#59246c" />
<line x1="118.25" y1="476.86" x2="118.25" y2="469.48" stroke="#111" stroke-width="1.2" />
<line x1="115.50" y1="469.48" x2="121.00" y2="469.48" stroke="#111" stroke-width="1.2" />
<line x1="118.25" y1="516.90" x2="118.25" y2="519.90" stroke="#111" stroke-width="1.2" />
<text transform="translate(121.75,525.10) rotate(-45) scale(0.95,1)" font-size="8.93" text-anchor="end" fill="#1e1e1e" stroke="#1e1e1e" stroke-width="0.3">shPUM2-a</text>
<path d="M81.80 416.50 V413.20 H100.10 V416.50" fill="none" stroke="#1a1a1a" stroke-width="1.2"/>
<circle cx="88.98" cy="409.00" r="1.15" fill="#151515"/>
<circle cx="92.83" cy="409.00" r="1.15" fill="#151515"/>
<path d="M81.80 404.80 V401.50 H118.30 V404.80" fill="none" stroke="#1a1a1a" stroke-width="1.2"/>
<circle cx="98.08" cy="397.20" r="1.15" fill="#151515"/>
<circle cx="101.92" cy="397.20" r="1.15" fill="#151515"/>
<text transform="translate(29.50,459.40) rotate(-90) scale(1.0,1)" font-size="8.66" text-anchor="middle" fill="#1e1e1e" stroke="#1e1e1e" stroke-width="0.3">Nb of CFC/10<tspan font-size="5.6" dy="-3.4">3</tspan><tspan dy="3.4"> output cells</tspan></text>
<text transform="translate(160.30,395.30) scale(0.885,1)" font-size="8.93" text-anchor="middle" fill="#1e1e1e" stroke="#1e1e1e" stroke-width="0.3" >GM-CFC</text>
<text transform="translate(195.40,395.30) scale(0.885,1)" font-size="8.93" text-anchor="middle" fill="#1e1e1e" stroke="#1e1e1e" stroke-width="0.3" >BFU-E</text>
<rect x="142.9" y="399.8" width="70.4" height="116.8" fill="#e2e0dc"/>
<svg x="143.9" y="400.7" width="33.3" height="37.5" overflow="hidden">
<rect x="0.00" y="0.00" width="33.30" height="37.50" fill="#8a828a" />
<ellipse cx="9.30" cy="11.00" rx="6.80" ry="12.00" fill="#cec2b2" opacity="1" filter="url(#b15)"/>
<ellipse cx="20.40" cy="24.00" rx="4.50" ry="12.00" fill="#c2bac8" opacity="1" filter="url(#b15)"/>
<ellipse cx="8.00" cy="30.00" rx="8.00" ry="6.00" fill="#b2aab2" opacity="1" filter="url(#b15)"/>
<ellipse cx="1.00" cy="18.00" rx="1.60" ry="19.00" fill="#56545c" opacity="1" filter="url(#b1)"/>
<ellipse cx="2.50" cy="5.00" rx="1.80" ry="4.50" fill="#c4c8d0" opacity="0.9" filter="url(#b1)"/>
<ellipse cx="24.50" cy="5.50" rx="10.00" ry="8.00" fill="#363034" opacity="1" filter="url(#b15)"/>
<ellipse cx="27.00" cy="3.00" rx="7.00" ry="4.00" fill="#2a262a" opacity="1" filter="url(#b1)"/>
<ellipse cx="31.50" cy="22.00" rx="1.60" ry="16.00" fill="#2e2c30" opacity="1" filter="url(#b1)"/>
<ellipse cx="24.60" cy="25.00" rx="1.30" ry="6.50" fill="#2e2c30" opacity="0.9" filter="url(#b1)"/>
<circle cx="19.7" cy="5.0" r="2.2" fill="none" stroke="#c8c4c8" stroke-width="1.3" opacity="0.85" filter="url(#b1)"/>
<ellipse cx="25.40" cy="11.80" rx="2.30" ry="2.53" fill="#ccc8d0" opacity="0.9" filter="url(#b1)"/>
<ellipse cx="26.60" cy="15.50" rx="2.20" ry="2.42" fill="#ccc8d0" opacity="0.9" filter="url(#b1)"/>
<ellipse cx="28.60" cy="22.50" rx="2.80" ry="3.08" fill="#ccc8d0" opacity="0.9" filter="url(#b1)"/>
<ellipse cx="30.00" cy="29.00" rx="2.40" ry="2.64" fill="#ccc8d0" opacity="0.9" filter="url(#b1)"/>
<ellipse cx="30.00" cy="33.50" rx="2.00" ry="2.20" fill="#ccc8d0" opacity="0.9" filter="url(#b1)"/>
<ellipse cx="19.30" cy="15.30" rx="2.00" ry="2.00" fill="#e0dce4" opacity="0.9" filter="url(#b1)"/>
<ellipse cx="4.00" cy="25.50" rx="2.50" ry="3.30" fill="#6a6068" opacity="0.85" filter="url(#b1)"/>
<ellipse cx="11.00" cy="23.50" rx="2.00" ry="1.50" fill="#7a7068" opacity="0.7" filter="url(#b1)"/>
<ellipse cx="5.00" cy="11.00" rx="1.20" ry="2.00" fill="#6a6458" opacity="0.7" filter="url(#b05)"/>
<ellipse cx="7.00" cy="14.00" rx="1.00" ry="1.20" fill="#6a6458" opacity="0.7" filter="url(#b05)"/>
<ellipse cx="12.00" cy="16.00" rx="1.20" ry="1.00" fill="#7a7060" opacity="0.6" filter="url(#b05)"/>
<circle cx="15.1" cy="21.0" r="0.86" fill="#d8ccc0" opacity="0.4" filter="url(#b05)"/>
<circle cx="15.0" cy="32.1" r="0.49" fill="#d8ccc0" opacity="0.4" filter="url(#b05)"/>
<circle cx="21.0" cy="29.7" r="0.45" fill="#5a5458" opacity="0.4" filter="url(#b05)"/>
<circle cx="4.7" cy="20.2" r="0.85" fill="#e8e2e4" opacity="0.4" filter="url(#b05)"/>
<circle cx="19.8" cy="14.9" r="0.63" fill="#8a8288" opacity="0.4" filter="url(#b05)"/>
<circle cx="20.8" cy="31.2" r="0.43" fill="#e8e2e4" opacity="0.4" filter="url(#b05)"/>
<circle cx="6.3" cy="9.1" r="0.42" fill="#d8ccc0" opacity="0.4" filter="url(#b05)"/>
<circle cx="10.9" cy="22.2" r="0.50" fill="#8a8288" opacity="0.4" filter="url(#b05)"/>
<circle cx="21.3" cy="18.7" r="0.73" fill="#d8ccc0" opacity="0.4" filter="url(#b05)"/>
<circle cx="21.8" cy="15.3" r="0.68" fill="#e8e2e4" opacity="0.4" filter="url(#b05)"/>
<circle cx="23.6" cy="11.8" r="0.51" fill="#5a5458" opacity="0.4" filter="url(#b05)"/>
<circle cx="1.0" cy="21.1" r="0.45" fill="#e8e2e4" opacity="0.4" filter="url(#b05)"/>
<circle cx="28.2" cy="14.5" r="0.88" fill="#e8e2e4" opacity="0.4" filter="url(#b05)"/>
<circle cx="7.1" cy="34.8" r="0.43" fill="#d8ccc0" opacity="0.4" filter="url(#b05)"/>
<circle cx="32.6" cy="14.9" r="0.44" fill="#8a8288" opacity="0.4" filter="url(#b05)"/>
<circle cx="25.9" cy="10.1" r="0.44" fill="#5a5458" opacity="0.4" filter="url(#b05)"/>
<circle cx="0.5" cy="15.4" r="0.86" fill="#8a8288" opacity="0.4" filter="url(#b05)"/>
<circle cx="8.2" cy="3.8" r="0.43" fill="#d8ccc0" opacity="0.4" filter="url(#b05)"/>
<circle cx="5.9" cy="21.0" r="0.62" fill="#8a8288" opacity="0.4" filter="url(#b05)"/>
<circle cx="32.8" cy="28.9" r="0.61" fill="#d8ccc0" opacity="0.4" filter="url(#b05)"/>
<circle cx="3.9" cy="15.8" r="0.51" fill="#5a5458" opacity="0.4" filter="url(#b05)"/>
<circle cx="28.8" cy="36.6" r="0.70" fill="#e8e2e4" opacity="0.4" filter="url(#b05)"/>
<circle cx="7.0" cy="14.8" r="0.83" fill="#e8e2e4" opacity="0.4" filter="url(#b05)"/>
<circle cx="1.4" cy="5.5" r="0.62" fill="#e8e2e4" opacity="0.4" filter="url(#b05)"/>
<circle cx="25.7" cy="12.3" r="0.55" fill="#e8e2e4" opacity="0.4" filter="url(#b05)"/>
<circle cx="2.5" cy="7.8" r="0.72" fill="#e8e2e4" opacity="0.4" filter="url(#b05)"/>
<circle cx="20.0" cy="13.9" r="0.63" fill="#d8ccc0" opacity="0.4" filter="url(#b05)"/>
<circle cx="27.7" cy="5.1" r="0.59" fill="#8a8288" opacity="0.4" filter="url(#b05)"/>
<circle cx="10.4" cy="8.6" r="0.71" fill="#8a8288" opacity="0.4" filter="url(#b05)"/>
<circle cx="5.3" cy="23.6" r="0.68" fill="#d8ccc0" opacity="0.4" filter="url(#b05)"/>
<circle cx="29.4" cy="22.6" r="0.61" fill="#e8e2e4" opacity="0.4" filter="url(#b05)"/>
<circle cx="3.6" cy="19.2" r="0.53" fill="#d8ccc0" opacity="0.4" filter="url(#b05)"/>
<circle cx="8.6" cy="30.9" r="0.70" fill="#5a5458" opacity="0.4" filter="url(#b05)"/>
<circle cx="17.3" cy="34.8" r="0.89" fill="#8a8288" opacity="0.4" filter="url(#b05)"/>
<circle cx="7.6" cy="21.0" r="0.83" fill="#e8e2e4" opacity="0.4" filter="url(#b05)"/>
<circle cx="9.3" cy="34.4" r="0.50" fill="#e8e2e4" opacity="0.4" filter="url(#b05)"/>
<circle cx="2.3" cy="15.4" r="0.52" fill="#e8e2e4" opacity="0.4" filter="url(#b05)"/>
<circle cx="5.9" cy="13.8" r="0.69" fill="#8a8288" opacity="0.4" filter="url(#b05)"/>
<circle cx="3.1" cy="5.2" r="0.63" fill="#5a5458" opacity="0.4" filter="url(#b05)"/>
<circle cx="21.9" cy="25.9" r="0.69" fill="#8a8288" opacity="0.4" filter="url(#b05)"/>
<circle cx="19.6" cy="34.6" r="0.64" fill="#5a5458" opacity="0.4" filter="url(#b05)"/>
<circle cx="23.3" cy="36.1" r="0.41" fill="#e8e2e4" opacity="0.4" filter="url(#b05)"/>
<circle cx="16.1" cy="27.4" r="0.56" fill="#e8e2e4" opacity="0.4" filter="url(#b05)"/>
<circle cx="2.5" cy="20.5" r="0.77" fill="#8a8288" opacity="0.4" filter="url(#b05)"/>
<circle cx="26.4" cy="34.3" r="0.58" fill="#d8ccc0" opacity="0.4" filter="url(#b05)"/>
<circle cx="30.0" cy="32.7" r="0.61" fill="#e8e2e4" opacity="0.4" filter="url(#b05)"/>
<circle cx="28.8" cy="21.5" r="0.71" fill="#d8ccc0" opacity="0.4" filter="url(#b05)"/>
<circle cx="12.6" cy="0.5" r="0.44" fill="#e8e2e4" opacity="0.4" filter="url(#b05)"/>
<circle cx="21.3" cy="37.2" r="0.84" fill="#5a5458" opacity="0.4" filter="url(#b05)"/>
<circle cx="12.9" cy="27.6" r="0.69" fill="#d8ccc0" opacity="0.4" filter="url(#b05)"/>
<rect x="0.00" y="0.00" width="33.30" height="37.50" fill="#000" filter="url(#nz)" opacity="0.55"/>
<rect x="0.00" y="0.00" width="33.30" height="37.50" fill="#000" filter="url(#nz2)" opacity="0.28"/>
</svg>
<svg x="179.1" y="400.7" width="33.1" height="37.5" overflow="hidden">
<rect x="0.00" y="0.00" width="33.10" height="37.50" fill="#1c201c" />
<ellipse cx="15.39" cy="20.21" rx="0.66" ry="0.66" fill="#6a6e64" opacity="0.7" filter="url(#b05)"/>
<ellipse cx="19.70" cy="18.07" rx="0.52" ry="0.75" fill="#6a6e64" opacity="0.7" filter="url(#b05)"/>
<ellipse cx="25.26" cy="24.43" rx="0.64" ry="0.85" fill="#6a6e64" opacity="0.7" filter="url(#b05)"/>
<ellipse cx="10.36" cy="25.07" rx="0.50" ry="0.48" fill="#6a6e64" opacity="0.7" filter="url(#b05)"/>
<ellipse cx="21.53" cy="16.69" rx="0.85" ry="0.56" fill="#30362e" opacity="0.7" filter="url(#b05)"/>
<ellipse cx="8.79" cy="23.51" rx="0.80" ry="0.78" fill="#4a5048" opacity="0.7" filter="url(#b05)"/>
<ellipse cx="28.38" cy="14.65" rx="0.69" ry="0.56" fill="#4a5048" opacity="0.7" filter="url(#b05)"/>
<ellipse cx="5.18" cy="13.45" rx="0.85" ry="0.42" fill="#4a5048" opacity="0.7" filter="url(#b05)"/>
<ellipse cx="30.55" cy="10.83" rx="0.48" ry="0.63" fill="#6a6e64" opacity="0.7" filter="url(#b05)"/>
<ellipse cx="29.79" cy="30.50" rx="0.59" ry="0.66" fill="#30362e" opacity="0.7" filter="url(#b05)"/>
<ellipse cx="10.81" cy="30.79" rx="0.89" ry="0.63" fill="#4a5048" opacity="0.7" filter="url(#b05)"/>
<ellipse cx="26.77" cy="10.87" rx="0.70" ry="0.74" fill="#6a6e64" opacity="0.7" filter="url(#b05)"/>
<ellipse cx="18.75" cy="11.97" rx="0.80" ry="0.41" fill="#4a5048" opacity="0.7" filter="url(#b05)"/>
<ellipse cx="13.60" cy="7.74" rx="0.78" ry="0.53" fill="#4a5048" opacity="0.7" filter="url(#b05)"/>
<ellipse cx="25.78" cy="35.93" rx="0.46" ry="0.45" fill="#30362e" opacity="0.7" filter="url(#b05)"/>
<ellipse cx="21.37" cy="29.66" rx="0.88" ry="0.74" fill="#4a5048" opacity="0.7" filter="url(#b05)"/>
<ellipse cx="26.62" cy="10.09" rx="0.76" ry="0.78" fill="#30362e" opacity="0.7" filter="url(#b05)"/>
<ellipse cx="23.21" cy="7.36" rx="0.54" ry="0.57" fill="#30362e" opacity="0.7" filter="url(#b05)"/>
<ellipse cx="30.45" cy="18.76" rx="0.90" ry="0.48" fill="#30362e" opacity="0.7" filter="url(#b05)"/>
<ellipse cx="29.18" cy="4.10" rx="0.87" ry="0.76" fill="#4a5048" opacity="0.7" filter="url(#b05)"/>
<ellipse cx="15.01" cy="7.99" rx="0.84" ry="0.40" fill="#30362e" opacity="0.7" filter="url(#b05)"/>
<ellipse cx="18.69" cy="32.22" rx="0.80" ry="0.87" fill="#6a6e64" opacity="0.7" filter="url(#b05)"/>
<ellipse cx="7.00" cy="2.50" rx="0.90" ry="0.90" fill="#8a8a80" opacity="0.8" filter="url(#b05)"/>
<ellipse cx="9.00" cy="3.80" rx="0.80" ry="0.80" fill="#8a8a80" opacity="0.8" filter="url(#b05)"/>
<ellipse cx="3.50" cy="23.50" rx="3.00" ry="3.50" fill="#464c46" opacity="0.9" filter="url(#b15)"/>
<path d="M15.3 5.6 L9.4 13.3 L14.9 20.6 L21.0 12.3 Z" fill="#b49684" opacity="0.85" filter="url(#b05)"/>
<ellipse cx="14.00" cy="12.00" rx="1.00" ry="1.00" fill="#5a4038" opacity="0.8" filter="url(#b05)"/>
<ellipse cx="17.00" cy="15.00" rx="1.20" ry="1.10" fill="#5a4038" opacity="0.8" filter="url(#b05)"/>
<ellipse cx="15.30" cy="8.50" rx="1.20" ry="1.20" fill="#d8c0b0" opacity="0.9" filter="url(#b05)"/>
<ellipse cx="23" cy="14.5" rx="2" ry="4" fill="none" stroke="#b0aaa8" stroke-width="1" filter="url(#b05)"/>
<ellipse cx="21.50" cy="19.00" rx="1.30" ry="1.60" fill="#a8a0a0" opacity="0.8" filter="url(#b05)"/>
<path d="M12.5 20 L16.6 20.6 L16.8 34 L14 35 Z" fill="#9a766c" opacity="0.95" filter="url(#b05)"/>
<ellipse cx="15.00" cy="27.00" rx="1.30" ry="4.00" fill="#d6b6a6" opacity="0.85" filter="url(#b05)"/>
<ellipse cx="14.20" cy="32.00" rx="1.00" ry="2.00" fill="#3a2a28" opacity="0.6" filter="url(#b05)"/>
<circle cx="24.9" cy="26.3" r="2.3" fill="none" stroke="#b88e70" stroke-width="1.1" filter="url(#b05)"/>
<ellipse cx="20.00" cy="25.50" rx="1.10" ry="1.10" fill="#d8d0c8" opacity="0.9" filter="url(#b05)"/>
<ellipse cx="8.40" cy="17.50" rx="0.90" ry="0.90" fill="#c8c0b0" opacity="0.8" filter="url(#b05)"/>
<ellipse cx="9.40" cy="21.00" rx="0.80" ry="0.80" fill="#b8b0a0" opacity="0.8" filter="url(#b05)"/>
<rect x="0.00" y="0.00" width="33.10" height="37.50" fill="#000" filter="url(#nz)" opacity="0.2"/>
</svg>
<svg x="143.9" y="439.5" width="33.3" height="37.1" overflow="hidden">
<rect x="0.00" y="0.00" width="33.30" height="37.10" fill="#2b2820" />
<ellipse cx="17.00" cy="18.50" rx="12.00" ry="13.00" fill="#46443e" opacity="0.85" filter="url(#b2)"/>
<ellipse cx="17.50" cy="18.00" rx="5.50" ry="7.00" fill="#6e6e6e" opacity="0.75" filter="url(#b15)"/>
<g filter="url(#b05)">
<ellipse cx="9.1" cy="36.1" rx="1.18" ry="0.54" transform="rotate(18 9.1 36.1)" fill="#b8b8bc" opacity="0.8"/>
<ellipse cx="20.2" cy="33.1" rx="1.28" ry="0.46" transform="rotate(176 20.2 33.1)" fill="#7a7870" opacity="0.8"/>
<ellipse cx="16.5" cy="29.6" rx="0.85" ry="0.31" transform="rotate(3 16.5 29.6)" fill="#7a7870" opacity="0.8"/>
<ellipse cx="7.1" cy="14.8" rx="0.43" ry="0.54" transform="rotate(88 7.1 14.8)" fill="#b8b8bc" opacity="0.8"/>
<ellipse cx="15.7" cy="19.3" rx="1.02" ry="0.57" transform="rotate(96 15.7 19.3)" fill="#24221c" opacity="0.8"/>
<ellipse cx="21.6" cy="25.3" rx="1.16" ry="0.51" transform="rotate(130 21.6 25.3)" fill="#24221c" opacity="0.8"/>
<ellipse cx="8.9" cy="13.4" rx="0.80" ry="0.47" transform="rotate(136 8.9 13.4)" fill="#24221c" opacity="0.8"/>
<ellipse cx="12.4" cy="12.0" rx="0.90" ry="0.39" transform="rotate(152 12.4 12.0)" fill="#24221c" opacity="0.8"/>
<ellipse cx="29.2" cy="14.5" rx="0.67" ry="0.34" transform="rotate(110 29.2 14.5)" fill="#24221c" opacity="0.8"/>
<ellipse cx="9.2" cy="17.1" rx="0.88" ry="0.45" transform="rotate(36 9.2 17.1)" fill="#24221c" opacity="0.8"/>
<ellipse cx="11.7" cy="24.6" rx="1.23" ry="0.46" transform="rotate(8 11.7 24.6)" fill="#24221c" opacity="0.8"/>
<ellipse cx="19.2" cy="20.6" rx="1.24" ry="0.44" transform="rotate(30 19.2 20.6)" fill="#24221c" opacity="0.8"/>
<ellipse cx="16.4" cy="26.4" rx="0.79" ry="0.54" transform="rotate(23 16.4 26.4)" fill="#24221c" opacity="0.8"/>
<ellipse cx="14.3" cy="18.0" rx="0.43" ry="0.38" transform="rotate(76 14.3 18.0)" fill="#b8b8bc" opacity="0.8"/>
<ellipse cx="20.7" cy="19.4" rx="0.66" ry="0.52" transform="rotate(2 20.7 19.4)" fill="#9a9894" opacity="0.8"/>
<ellipse cx="15.1" cy="16.2" rx="0.51" ry="0.45" transform="rotate(132 15.1 16.2)" fill="#7a7870" opacity="0.8"/>
<ellipse cx="15.3" cy="7.8" rx="0.42" ry="0.49" transform="rotate(158 15.3 7.8)" fill="#24221c" opacity="0.8"/>
<ellipse cx="11.4" cy="12.7" rx="0.88" ry="0.37" transform="rotate(155 11.4 12.7)" fill="#9a9894" opacity="0.8"/>
<ellipse cx="22.3" cy="10.8" rx="0.61" ry="0.52" transform="rotate(154 22.3 10.8)" fill="#7a7870" opacity="0.8"/>
<ellipse cx="21.6" cy="15.0" rx="1.23" ry="0.37" transform="rotate(57 21.6 15.0)" fill="#9a9894" opacity="0.8"/>
<ellipse cx="19.7" cy="16.1" rx="1.05" ry="0.38" transform="rotate(43 19.7 16.1)" fill="#b8b8bc" opacity="0.8"/>
<ellipse cx="3.7" cy="25.1" rx="1.03" ry="0.36" transform="rotate(98 3.7 25.1)" fill="#b8b8bc" opacity="0.8"/>
<ellipse cx="23.8" cy="23.7" rx="1.14" ry="0.41" transform="rotate(64 23.8 23.7)" fill="#24221c" opacity="0.8"/>
<ellipse cx="13.4" cy="13.7" rx="1.15" ry="0.54" transform="rotate(180 13.4 13.7)" fill="#24221c" opacity="0.8"/>
<ellipse cx="18.5" cy="19.7" rx="0.86" ry="0.47" transform="rotate(99 18.5 19.7)" fill="#9a9894" opacity="0.8"/>
<ellipse cx="18.3" cy="21.7" rx="0.54" ry="0.38" transform="rotate(31 18.3 21.7)" fill="#b8b8bc" opacity="0.8"/>
<ellipse cx="14.3" cy="16.7" rx="0.47" ry="0.33" transform="rotate(123 14.3 16.7)" fill="#24221c" opacity="0.8"/>
<ellipse cx="9.9" cy="20.2" rx="0.94" ry="0.30" transform="rotate(77 9.9 20.2)" fill="#b8b8bc" opacity="0.8"/>
<ellipse cx="19.4" cy="14.8" rx="1.07" ry="0.42" transform="rotate(82 19.4 14.8)" fill="#9a9894" opacity="0.8"/>
<ellipse cx="15.0" cy="16.6" rx="0.69" ry="0.33" transform="rotate(143 15.0 16.6)" fill="#24221c" opacity="0.8"/>
<ellipse cx="13.5" cy="16.6" rx="0.71" ry="0.53" transform="rotate(105 13.5 16.6)" fill="#7a7870" opacity="0.8"/>
<ellipse cx="25.9" cy="12.4" rx="1.13" ry="0.42" transform="rotate(140 25.9 12.4)" fill="#7a7870" opacity="0.8"/>
<ellipse cx="24.2" cy="11.1" rx="1.09" ry="0.42" transform="rotate(138 24.2 11.1)" fill="#9a9894" opacity="0.8"/>
<ellipse cx="22.3" cy="21.2" rx="0.41" ry="0.41" transform="rotate(84 22.3 21.2)" fill="#24221c" opacity="0.8"/>
<ellipse cx="21.9" cy="20.2" rx="0.67" ry="0.36" transform="rotate(173 21.9 20.2)" fill="#24221c" opacity="0.8"/>
<ellipse cx="10.3" cy="14.8" rx="1.30" ry="0.49" transform="rotate(70 10.3 14.8)" fill="#b8b8bc" opacity="0.8"/>
<ellipse cx="18.5" cy="-1.0" rx="0.95" ry="0.52" transform="rotate(4 18.5 -1.0)" fill="#7a7870" opacity="0.8"/>
<ellipse cx="10.3" cy="21.4" rx="0.98" ry="0.30" transform="rotate(137 10.3 21.4)" fill="#7a7870" opacity="0.8"/>
<ellipse cx="17.1" cy="33.7" rx="0.86" ry="0.59" transform="rotate(99 17.1 33.7)" fill="#24221c" opacity="0.8"/>
<ellipse cx="18.8" cy="15.9" rx="0.98" ry="0.46" transform="rotate(80 18.8 15.9)" fill="#b8b8bc" opacity="0.8"/>
<ellipse cx="6.1" cy="29.3" rx="1.27" ry="0.56" transform="rotate(69 6.1 29.3)" fill="#24221c" opacity="0.8"/>
<ellipse cx="15.6" cy="16.9" rx="0.78" ry="0.46" transform="rotate(170 15.6 16.9)" fill="#24221c" opacity="0.8"/>
<ellipse cx="14.3" cy="26.5" rx="0.64" ry="0.58" transform="rotate(87 14.3 26.5)" fill="#7a7870" opacity="0.8"/>
<ellipse cx="27.7" cy="20.5" rx="0.97" ry="0.42" transform="rotate(105 27.7 20.5)" fill="#24221c" opacity="0.8"/>
<ellipse cx="22.3" cy="20.5" rx="0.92" ry="0.52" transform="rotate(72 22.3 20.5)" fill="#7a7870" opacity="0.8"/>
<ellipse cx="29.3" cy="25.3" rx="0.83" ry="0.59" transform="rotate(77 29.3 25.3)" fill="#9a9894" opacity="0.8"/>
<ellipse cx="19.9" cy="19.4" rx="1.22" ry="0.34" transform="rotate(146 19.9 19.4)" fill="#9a9894" opacity="0.8"/>
<ellipse cx="14.8" cy="16.4" rx="0.81" ry="0.36" transform="rotate(112 14.8 16.4)" fill="#b8b8bc" opacity="0.8"/>
<ellipse cx="15.0" cy="21.7" rx="0.53" ry="0.43" transform="rotate(65 15.0 21.7)" fill="#24221c" opacity="0.8"/>
<ellipse cx="16.6" cy="27.7" rx="1.10" ry="0.46" transform="rotate(76 16.6 27.7)" fill="#9a9894" opacity="0.8"/>
<ellipse cx="26.9" cy="15.2" rx="0.50" ry="0.57" transform="rotate(43 26.9 15.2)" fill="#24221c" opacity="0.8"/>
<ellipse cx="13.1" cy="13.8" rx="1.02" ry="0.47" transform="rotate(49 13.1 13.8)" fill="#24221c" opacity="0.8"/>
<ellipse cx="19.0" cy="23.8" rx="1.26" ry="0.45" transform="rotate(43 19.0 23.8)" fill="#9a9894" opacity="0.8"/>
<ellipse cx="18.5" cy="17.1" rx="0.64" ry="0.43" transform="rotate(11 18.5 17.1)" fill="#24221c" opacity="0.8"/>
<ellipse cx="21.5" cy="19.7" rx="1.08" ry="0.57" transform="rotate(50 21.5 19.7)" fill="#9a9894" opacity="0.8"/>
<ellipse cx="8.9" cy="15.4" rx="0.83" ry="0.36" transform="rotate(67 8.9 15.4)" fill="#7a7870" opacity="0.8"/>
<ellipse cx="13.9" cy="18.6" rx="1.12" ry="0.43" transform="rotate(157 13.9 18.6)" fill="#24221c" opacity="0.8"/>
<ellipse cx="22.8" cy="8.3" rx="1.07" ry="0.42" transform="rotate(80 22.8 8.3)" fill="#9a9894" opacity="0.8"/>
<ellipse cx="11.1" cy="26.0" rx="0.69" ry="0.46" transform="rotate(178 11.1 26.0)" fill="#9a9894" opacity="0.8"/>
<ellipse cx="11.9" cy="21.5" rx="1.19" ry="0.32" transform="rotate(17 11.9 21.5)" fill="#b8b8bc" opacity="0.8"/>
<ellipse cx="9.9" cy="22.3" rx="0.82" ry="0.55" transform="rotate(147 9.9 22.3)" fill="#b8b8bc" opacity="0.8"/>
<ellipse cx="21.0" cy="20.7" rx="0.47" ry="0.39" transform="rotate(119 21.0 20.7)" fill="#7a7870" opacity="0.8"/>
<ellipse cx="16.5" cy="22.3" rx="1.05" ry="0.41" transform="rotate(64 16.5 22.3)" fill="#b8b8bc" opacity="0.8"/>
<ellipse cx="14.3" cy="25.3" rx="1.21" ry="0.51" transform="rotate(107 14.3 25.3)" fill="#7a7870" opacity="0.8"/>
<ellipse cx="6.9" cy="23.3" rx="0.69" ry="0.42" transform="rotate(55 6.9 23.3)" fill="#24221c" opacity="0.8"/>
<ellipse cx="17.3" cy="25.1" rx="0.73" ry="0.42" transform="rotate(66 17.3 25.1)" fill="#24221c" opacity="0.8"/>
<ellipse cx="20.1" cy="7.5" rx="0.75" ry="0.35" transform="rotate(66 20.1 7.5)" fill="#24221c" opacity="0.8"/>
<ellipse cx="13.6" cy="16.8" rx="1.19" ry="0.38" transform="rotate(137 13.6 16.8)" fill="#b8b8bc" opacity="0.8"/>
<ellipse cx="17.6" cy="20.9" rx="0.67" ry="0.31" transform="rotate(29 17.6 20.9)" fill="#24221c" opacity="0.8"/>
<ellipse cx="24.4" cy="21.9" rx="0.48" ry="0.32" transform="rotate(142 24.4 21.9)" fill="#b8b8bc" opacity="0.8"/>
<ellipse cx="19.3" cy="16.8" rx="0.53" ry="0.52" transform="rotate(114 19.3 16.8)" fill="#24221c" opacity="0.8"/>
<ellipse cx="17.3" cy="23.4" rx="0.87" ry="0.53" transform="rotate(138 17.3 23.4)" fill="#24221c" opacity="0.8"/>
<ellipse cx="10.6" cy="28.8" rx="0.52" ry="0.45" transform="rotate(60 10.6 28.8)" fill="#b8b8bc" opacity="0.8"/>
<ellipse cx="13.6" cy="3.5" rx="1.14" ry="0.50" transform="rotate(74 13.6 3.5)" fill="#b8b8bc" opacity="0.8"/>
<ellipse cx="21.2" cy="6.0" rx="1.26" ry="0.49" transform="rotate(160 21.2 6.0)" fill="#24221c" opacity="0.8"/>
<ellipse cx="16.6" cy="19.3" rx="1.23" ry="0.57" transform="rotate(20 16.6 19.3)" fill="#9a9894" opacity="0.8"/>
<ellipse cx="16.2" cy="-3.0" rx="0.55" ry="0.36" transform="rotate(68 16.2 -3.0)" fill="#24221c" opacity="0.8"/>
<ellipse cx="12.3" cy="17.5" rx="0.82" ry="0.52" transform="rotate(159 12.3 17.5)" fill="#7a7870" opacity="0.8"/>
<ellipse cx="10.8" cy="8.8" rx="0.46" ry="0.44" transform="rotate(32 10.8 8.8)" fill="#24221c" opacity="0.8"/>
<ellipse cx="6.1" cy="20.0" rx="0.58" ry="0.41" transform="rotate(56 6.1 20.0)" fill="#24221c" opacity="0.8"/>
<ellipse cx="18.1" cy="29.6" rx="0.60" ry="0.36" transform="rotate(107 18.1 29.6)" fill="#7a7870" opacity="0.8"/>
<ellipse cx="6.1" cy="27.3" rx="0.96" ry="0.58" transform="rotate(169 6.1 27.3)" fill="#24221c" opacity="0.8"/>
<ellipse cx="12.4" cy="19.2" rx="1.22" ry="0.40" transform="rotate(160 12.4 19.2)" fill="#24221c" opacity="0.8"/>
<ellipse cx="17.6" cy="15.4" rx="0.76" ry="0.37" transform="rotate(155 17.6 15.4)" fill="#9a9894" opacity="0.8"/>
<ellipse cx="19.1" cy="12.0" rx="0.86" ry="0.38" transform="rotate(95 19.1 12.0)" fill="#b8b8bc" opacity="0.8"/>
<ellipse cx="14.7" cy="14.2" rx="0.83" ry="0.41" transform="rotate(2 14.7 14.2)" fill="#9a9894" opacity="0.8"/>
<ellipse cx="15.3" cy="9.2" rx="0.54" ry="0.40" transform="rotate(28 15.3 9.2)" fill="#7a7870" opacity="0.8"/>
<ellipse cx="26.7" cy="11.5" rx="1.07" ry="0.49" transform="rotate(24 26.7 11.5)" fill="#24221c" opacity="0.8"/>
<ellipse cx="13.7" cy="17.6" rx="0.40" ry="0.55" transform="rotate(139 13.7 17.6)" fill="#9a9894" opacity="0.8"/>
<ellipse cx="18.3" cy="15.9" rx="1.04" ry="0.33" transform="rotate(49 18.3 15.9)" fill="#24221c" opacity="0.8"/>
<ellipse cx="16.3" cy="15.8" rx="0.89" ry="0.45" transform="rotate(135 16.3 15.8)" fill="#b8b8bc" opacity="0.8"/>
<ellipse cx="18.8" cy="11.4" rx="0.48" ry="0.55" transform="rotate(165 18.8 11.4)" fill="#9a9894" opacity="0.8"/>
<ellipse cx="23.4" cy="20.2" rx="1.25" ry="0.59" transform="rotate(89 23.4 20.2)" fill="#7a7870" opacity="0.8"/>
<ellipse cx="16.3" cy="21.1" rx="0.82" ry="0.51" transform="rotate(55 16.3 21.1)" fill="#7a7870" opacity="0.8"/>
<ellipse cx="20.2" cy="20.2" rx="1.01" ry="0.52" transform="rotate(120 20.2 20.2)" fill="#b8b8bc" opacity="0.8"/>
<ellipse cx="16.6" cy="17.6" rx="1.04" ry="0.37" transform="rotate(68 16.6 17.6)" fill="#24221c" opacity="0.8"/>
<ellipse cx="25.3" cy="26.4" rx="1.16" ry="0.52" transform="rotate(154 25.3 26.4)" fill="#24221c" opacity="0.8"/>
<ellipse cx="22.2" cy="26.5" rx="1.07" ry="0.59" transform="rotate(169 22.2 26.5)" fill="#24221c" opacity="0.8"/>
<ellipse cx="14.7" cy="17.5" rx="0.74" ry="0.33" transform="rotate(34 14.7 17.5)" fill="#7a7870" opacity="0.8"/>
<ellipse cx="24.7" cy="15.5" rx="0.70" ry="0.55" transform="rotate(130 24.7 15.5)" fill="#b8b8bc" opacity="0.8"/>
<ellipse cx="24.1" cy="24.3" rx="0.97" ry="0.35" transform="rotate(24 24.1 24.3)" fill="#9a9894" opacity="0.8"/>
<ellipse cx="7.5" cy="26.2" rx="0.48" ry="0.37" transform="rotate(107 7.5 26.2)" fill="#9a9894" opacity="0.8"/>
<ellipse cx="23.8" cy="17.9" rx="0.71" ry="0.55" transform="rotate(139 23.8 17.9)" fill="#24221c" opacity="0.8"/>
<ellipse cx="19.9" cy="22.1" rx="1.02" ry="0.44" transform="rotate(27 19.9 22.1)" fill="#24221c" opacity="0.8"/>
<ellipse cx="10.0" cy="10.6" rx="0.69" ry="0.54" transform="rotate(110 10.0 10.6)" fill="#9a9894" opacity="0.8"/>
<ellipse cx="12.7" cy="10.4" rx="0.70" ry="0.40" transform="rotate(3 12.7 10.4)" fill="#24221c" opacity="0.8"/>
<ellipse cx="21.9" cy="22.7" rx="1.11" ry="0.55" transform="rotate(92 21.9 22.7)" fill="#24221c" opacity="0.8"/>
<ellipse cx="16.1" cy="13.3" rx="0.67" ry="0.37" transform="rotate(97 16.1 13.3)" fill="#24221c" opacity="0.8"/>
<ellipse cx="13.8" cy="18.5" rx="1.29" ry="0.45" transform="rotate(128 13.8 18.5)" fill="#9a9894" opacity="0.8"/>
<ellipse cx="15.9" cy="17.8" rx="1.10" ry="0.34" transform="rotate(119 15.9 17.8)" fill="#24221c" opacity="0.8"/>
<ellipse cx="8.7" cy="13.5" rx="1.24" ry="0.41" transform="rotate(59 8.7 13.5)" fill="#24221c" opacity="0.8"/>
<ellipse cx="22.2" cy="13.3" rx="0.61" ry="0.47" transform="rotate(131 22.2 13.3)" fill="#24221c" opacity="0.8"/>
<ellipse cx="9.8" cy="15.2" rx="1.22" ry="0.60" transform="rotate(48 9.8 15.2)" fill="#7a7870" opacity="0.8"/>
<ellipse cx="14.7" cy="16.4" rx="0.66" ry="0.57" transform="rotate(148 14.7 16.4)" fill="#9a9894" opacity="0.8"/>
<ellipse cx="17.5" cy="11.9" rx="0.94" ry="0.54" transform="rotate(30 17.5 11.9)" fill="#24221c" opacity="0.8"/>
<ellipse cx="21.0" cy="19.4" rx="1.25" ry="0.50" transform="rotate(178 21.0 19.4)" fill="#7a7870" opacity="0.8"/>
<ellipse cx="17.7" cy="4.9" rx="0.95" ry="0.49" transform="rotate(163 17.7 4.9)" fill="#b8b8bc" opacity="0.8"/>
<ellipse cx="20.7" cy="24.6" rx="0.88" ry="0.34" transform="rotate(6 20.7 24.6)" fill="#24221c" opacity="0.8"/>
<ellipse cx="20.7" cy="26.0" rx="0.91" ry="0.40" transform="rotate(47 20.7 26.0)" fill="#b8b8bc" opacity="0.8"/>
<ellipse cx="15.3" cy="6.4" rx="0.85" ry="0.33" transform="rotate(73 15.3 6.4)" fill="#7a7870" opacity="0.8"/>
<ellipse cx="9.8" cy="23.7" rx="1.08" ry="0.53" transform="rotate(124 9.8 23.7)" fill="#24221c" opacity="0.8"/>
<ellipse cx="22.5" cy="13.5" rx="1.02" ry="0.55" transform="rotate(163 22.5 13.5)" fill="#b8b8bc" opacity="0.8"/>
<ellipse cx="4.9" cy="12.4" rx="0.87" ry="0.43" transform="rotate(95 4.9 12.4)" fill="#b8b8bc" opacity="0.8"/>
<ellipse cx="16.3" cy="20.6" rx="1.21" ry="0.52" transform="rotate(131 16.3 20.6)" fill="#24221c" opacity="0.8"/>
<ellipse cx="12.4" cy="29.6" rx="1.19" ry="0.37" transform="rotate(159 12.4 29.6)" fill="#24221c" opacity="0.8"/>
<ellipse cx="17.8" cy="32.7" rx="0.83" ry="0.33" transform="rotate(175 17.8 32.7)" fill="#9a9894" opacity="0.8"/>
<ellipse cx="8.5" cy="15.6" rx="1.19" ry="0.60" transform="rotate(169 8.5 15.6)" fill="#7a7870" opacity="0.8"/>
<ellipse cx="21.5" cy="13.1" rx="0.60" ry="0.52" transform="rotate(145 21.5 13.1)" fill="#24221c" opacity="0.8"/>
<ellipse cx="18.9" cy="20.4" rx="0.52" ry="0.56" transform="rotate(94 18.9 20.4)" fill="#24221c" opacity="0.8"/>
<ellipse cx="17.4" cy="18.4" rx="0.67" ry="0.40" transform="rotate(44 17.4 18.4)" fill="#b8b8bc" opacity="0.8"/>
<ellipse cx="10.9" cy="21.3" rx="0.53" ry="0.51" transform="rotate(95 10.9 21.3)" fill="#9a9894" opacity="0.8"/>
<ellipse cx="18.7" cy="19.0" rx="0.68" ry="0.45" transform="rotate(162 18.7 19.0)" fill="#24221c" opacity="0.8"/>
<ellipse cx="20.2" cy="15.2" rx="1.02" ry="0.32" transform="rotate(155 20.2 15.2)" fill="#7a7870" opacity="0.8"/>
<ellipse cx="20.2" cy="12.9" rx="0.55" ry="0.56" transform="rotate(85 20.2 12.9)" fill="#24221c" opacity="0.8"/>
<ellipse cx="19.8" cy="28.0" rx="1.19" ry="0.32" transform="rotate(34 19.8 28.0)" fill="#b8b8bc" opacity="0.8"/>
<ellipse cx="13.3" cy="30.6" rx="0.65" ry="0.43" transform="rotate(173 13.3 30.6)" fill="#9a9894" opacity="0.8"/>
<ellipse cx="9.3" cy="33.6" rx="0.77" ry="0.35" transform="rotate(140 9.3 33.6)" fill="#7a7870" opacity="0.8"/>
<ellipse cx="24.1" cy="25.9" rx="1.05" ry="0.45" transform="rotate(48 24.1 25.9)" fill="#7a7870" opacity="0.8"/>
<ellipse cx="18.7" cy="12.0" rx="1.20" ry="0.48" transform="rotate(119 18.7 12.0)" fill="#9a9894" opacity="0.8"/>
<ellipse cx="30.2" cy="16.4" rx="0.60" ry="0.34" transform="rotate(33 30.2 16.4)" fill="#b8b8bc" opacity="0.8"/>
<ellipse cx="14.8" cy="19.1" rx="0.47" ry="0.57" transform="rotate(165 14.8 19.1)" fill="#b8b8bc" opacity="0.8"/>
<ellipse cx="13.1" cy="15.1" rx="1.12" ry="0.33" transform="rotate(45 13.1 15.1)" fill="#7a7870" opacity="0.8"/>
<ellipse cx="21.2" cy="18.2" rx="1.06" ry="0.31" transform="rotate(32 21.2 18.2)" fill="#9a9894" opacity="0.8"/>
<ellipse cx="18.8" cy="18.4" rx="1.08" ry="0.42" transform="rotate(83 18.8 18.4)" fill="#24221c" opacity="0.8"/>
<ellipse cx="19.3" cy="19.4" rx="1.22" ry="0.40" transform="rotate(140 19.3 19.4)" fill="#24221c" opacity="0.8"/>
<ellipse cx="18.7" cy="10.2" rx="1.16" ry="0.51" transform="rotate(91 18.7 10.2)" fill="#24221c" opacity="0.8"/>
<ellipse cx="16.9" cy="9.9" rx="1.09" ry="0.33" transform="rotate(107 16.9 9.9)" fill="#24221c" opacity="0.8"/>
<ellipse cx="17.8" cy="26.0" rx="1.11" ry="0.54" transform="rotate(139 17.8 26.0)" fill="#9a9894" opacity="0.8"/>
<ellipse cx="16.7" cy="27.3" rx="0.94" ry="0.38" transform="rotate(153 16.7 27.3)" fill="#9a9894" opacity="0.8"/>
<ellipse cx="9.1" cy="12.2" rx="1.19" ry="0.35" transform="rotate(103 9.1 12.2)" fill="#9a9894" opacity="0.8"/>
<ellipse cx="10.6" cy="12.5" rx="0.85" ry="0.52" transform="rotate(145 10.6 12.5)" fill="#b8b8bc" opacity="0.8"/>
<ellipse cx="29.3" cy="25.2" rx="0.89" ry="0.54" transform="rotate(102 29.3 25.2)" fill="#9a9894" opacity="0.8"/>
<ellipse cx="15.7" cy="16.9" rx="1.03" ry="0.55" transform="rotate(77 15.7 16.9)" fill="#24221c" opacity="0.8"/>
<ellipse cx="19.2" cy="6.8" rx="0.99" ry="0.45" transform="rotate(90 19.2 6.8)" fill="#24221c" opacity="0.8"/>
<ellipse cx="17.1" cy="22.6" rx="1.15" ry="0.54" transform="rotate(124 17.1 22.6)" fill="#b8b8bc" opacity="0.8"/>
<ellipse cx="14.4" cy="25.7" rx="1.03" ry="0.59" transform="rotate(126 14.4 25.7)" fill="#9a9894" opacity="0.8"/>
<ellipse cx="6.7" cy="19.3" rx="0.53" ry="0.44" transform="rotate(178 6.7 19.3)" fill="#b8b8bc" opacity="0.8"/>
<ellipse cx="23.6" cy="18.7" rx="0.48" ry="0.47" transform="rotate(95 23.6 18.7)" fill="#24221c" opacity="0.8"/>
<ellipse cx="15.0" cy="19.8" rx="1.30" ry="0.53" transform="rotate(6 15.0 19.8)" fill="#24221c" opacity="0.8"/>
<ellipse cx="17.8" cy="23.8" rx="0.62" ry="0.44" transform="rotate(99 17.8 23.8)" fill="#9a9894" opacity="0.8"/>
<ellipse cx="13.5" cy="23.3" rx="0.95" ry="0.31" transform="rotate(177 13.5 23.3)" fill="#24221c" opacity="0.8"/>
<ellipse cx="-0.1" cy="6.9" rx="0.91" ry="0.57" transform="rotate(133 -0.1 6.9)" fill="#24221c" opacity="0.8"/>
<ellipse cx="20.6" cy="16.5" rx="1.24" ry="0.36" transform="rotate(155 20.6 16.5)" fill="#24221c" opacity="0.8"/>
<ellipse cx="18.0" cy="13.7" rx="0.57" ry="0.46" transform="rotate(63 18.0 13.7)" fill="#9a9894" opacity="0.8"/>
<ellipse cx="11.0" cy="19.4" rx="1.08" ry="0.44" transform="rotate(107 11.0 19.4)" fill="#24221c" opacity="0.8"/>
<ellipse cx="26.5" cy="18.1" rx="0.58" ry="0.41" transform="rotate(155 26.5 18.1)" fill="#b8b8bc" opacity="0.8"/>
<ellipse cx="22.0" cy="20.1" rx="0.96" ry="0.46" transform="rotate(171 22.0 20.1)" fill="#7a7870" opacity="0.8"/>
<ellipse cx="9.2" cy="17.8" rx="0.60" ry="0.33" transform="rotate(117 9.2 17.8)" fill="#b8b8bc" opacity="0.8"/>
<ellipse cx="25.5" cy="32.0" rx="1.09" ry="0.52" transform="rotate(65 25.5 32.0)" fill="#b8b8bc" opacity="0.8"/>
<ellipse cx="22.6" cy="19.3" rx="0.47" ry="0.56" transform="rotate(69 22.6 19.3)" fill="#7a7870" opacity="0.8"/>
</g>
<ellipse cx="17.50" cy="17.00" rx="2.50" ry="3.50" fill="#b4b4bc" opacity="0.6" filter="url(#b1)"/>
</svg>
<svg x="179.1" y="439.5" width="33.1" height="37.1" overflow="hidden">
<defs><linearGradient id="g4" x1="0" x2="1" y1="0" y2="0"><stop offset="0" stop-color="#171714"/><stop offset="0.3" stop-color="#1a1916"/><stop offset="0.55" stop-color="#3a342c"/><stop offset="1" stop-color="#4a4238"/></linearGradient></defs>
<rect x="0.00" y="0.00" width="33.10" height="37.10" fill="url(#g4)" />
<ellipse cx="24.00" cy="30.00" rx="9.00" ry="8.00" fill="#403a32" opacity="0.6" filter="url(#b2)"/>
<ellipse cx="12.30" cy="16.50" rx="5.50" ry="5.00" fill="#6a665a" opacity="0.5" filter="url(#b15)"/>
<path d="M8.5 14.5 L11.5 12.8 L15.3 13.6 L15.8 17.3 L13 20.2 L9.7 19.8 Z" fill="#bcb8a4" filter="url(#b1)"/>
<ellipse cx="11.00" cy="16.30" rx="0.90" ry="1.10" fill="#7a4a34" opacity="0.9" filter="url(#b05)"/>
</svg>
<svg x="143.9" y="478.7" width="33.3" height="36.9" overflow="hidden">
<rect x="0.00" y="0.00" width="33.30" height="36.90" fill="#1a1c20" />
<ellipse cx="14.50" cy="19.00" rx="13.00" ry="16.00" fill="#323844" opacity="0.9" filter="url(#b2)"/>
<g filter="url(#b05)">
<ellipse cx="13.9" cy="37.5" rx="0.64" ry="0.48" transform="rotate(120 13.9 37.5)" fill="#14161a" opacity="0.8"/>
<ellipse cx="18.9" cy="20.3" rx="0.43" ry="0.39" transform="rotate(107 18.9 20.3)" fill="#14161a" opacity="0.8"/>
<ellipse cx="2.3" cy="20.9" rx="0.84" ry="0.39" transform="rotate(93 2.3 20.9)" fill="#14161a" opacity="0.8"/>
<ellipse cx="12.2" cy="14.6" rx="0.62" ry="0.51" transform="rotate(37 12.2 14.6)" fill="#14161a" opacity="0.8"/>
<ellipse cx="20.8" cy="27.2" rx="0.48" ry="0.41" transform="rotate(64 20.8 27.2)" fill="#14161a" opacity="0.8"/>
<ellipse cx="15.0" cy="21.5" rx="0.90" ry="0.47" transform="rotate(4 15.0 21.5)" fill="#404a5e" opacity="0.8"/>
<ellipse cx="11.0" cy="31.8" rx="0.57" ry="0.51" transform="rotate(165 11.0 31.8)" fill="#404a5e" opacity="0.8"/>
<ellipse cx="24.4" cy="29.8" rx="1.03" ry="0.38" transform="rotate(67 24.4 29.8)" fill="#14161a" opacity="0.8"/>
<ellipse cx="21.3" cy="26.2" rx="1.14" ry="0.39" transform="rotate(88 21.3 26.2)" fill="#404a5e" opacity="0.8"/>
<ellipse cx="13.6" cy="24.2" rx="0.78" ry="0.35" transform="rotate(72 13.6 24.2)" fill="#404a5e" opacity="0.8"/>
<ellipse cx="12.2" cy="8.4" rx="1.13" ry="0.54" transform="rotate(134 12.2 8.4)" fill="#14161a" opacity="0.8"/>
<ellipse cx="3.7" cy="12.1" rx="0.96" ry="0.31" transform="rotate(100 3.7 12.1)" fill="#14161a" opacity="0.8"/>
<ellipse cx="27.3" cy="32.5" rx="0.62" ry="0.41" transform="rotate(164 27.3 32.5)" fill="#14161a" opacity="0.8"/>
<ellipse cx="10.6" cy="32.6" rx="0.46" ry="0.31" transform="rotate(159 10.6 32.6)" fill="#a0a8bc" opacity="0.8"/>
<ellipse cx="22.5" cy="11.7" rx="0.93" ry="0.36" transform="rotate(47 22.5 11.7)" fill="#14161a" opacity="0.8"/>
<ellipse cx="9.0" cy="24.5" rx="0.42" ry="0.51" transform="rotate(162 9.0 24.5)" fill="#5a6478" opacity="0.8"/>
<ellipse cx="16.0" cy="6.5" rx="0.73" ry="0.42" transform="rotate(112 16.0 6.5)" fill="#a0a8bc" opacity="0.8"/>
<ellipse cx="22.6" cy="23.2" rx="1.17" ry="0.42" transform="rotate(81 22.6 23.2)" fill="#5a6478" opacity="0.8"/>
<ellipse cx="11.9" cy="12.4" rx="0.78" ry="0.31" transform="rotate(89 11.9 12.4)" fill="#14161a" opacity="0.8"/>
<ellipse cx="16.5" cy="25.1" rx="0.59" ry="0.30" transform="rotate(122 16.5 25.1)" fill="#14161a" opacity="0.8"/>
<ellipse cx="15.2" cy="18.9" rx="1.08" ry="0.53" transform="rotate(98 15.2 18.9)" fill="#7a84a0" opacity="0.8"/>
<ellipse cx="7.2" cy="10.9" rx="1.18" ry="0.40" transform="rotate(150 7.2 10.9)" fill="#a0a8bc" opacity="0.8"/>
<ellipse cx="15.8" cy="20.1" rx="0.57" ry="0.42" transform="rotate(145 15.8 20.1)" fill="#5a6478" opacity="0.8"/>
<ellipse cx="29.0" cy="15.2" rx="0.90" ry="0.45" transform="rotate(29 29.0 15.2)" fill="#14161a" opacity="0.8"/>
<ellipse cx="12.3" cy="28.0" rx="0.93" ry="0.45" transform="rotate(66 12.3 28.0)" fill="#404a5e" opacity="0.8"/>
<ellipse cx="14.5" cy="27.0" rx="0.81" ry="0.34" transform="rotate(32 14.5 27.0)" fill="#7a84a0" opacity="0.8"/>
<ellipse cx="29.2" cy="17.9" rx="0.65" ry="0.55" transform="rotate(159 29.2 17.9)" fill="#14161a" opacity="0.8"/>
<ellipse cx="15.8" cy="8.8" rx="1.09" ry="0.56" transform="rotate(29 15.8 8.8)" fill="#7a84a0" opacity="0.8"/>
<ellipse cx="10.0" cy="26.5" rx="0.96" ry="0.38" transform="rotate(133 10.0 26.5)" fill="#404a5e" opacity="0.8"/>
<ellipse cx="14.4" cy="33.3" rx="0.67" ry="0.53" transform="rotate(59 14.4 33.3)" fill="#14161a" opacity="0.8"/>
<ellipse cx="19.4" cy="8.7" rx="0.97" ry="0.49" transform="rotate(76 19.4 8.7)" fill="#a0a8bc" opacity="0.8"/>
<ellipse cx="15.8" cy="14.6" rx="0.94" ry="0.37" transform="rotate(68 15.8 14.6)" fill="#5a6478" opacity="0.8"/>
<ellipse cx="23.4" cy="17.3" rx="1.03" ry="0.58" transform="rotate(125 23.4 17.3)" fill="#a0a8bc" opacity="0.8"/>
<ellipse cx="11.3" cy="10.3" rx="0.72" ry="0.58" transform="rotate(114 11.3 10.3)" fill="#5a6478" opacity="0.8"/>
<ellipse cx="26.6" cy="23.3" rx="0.43" ry="0.39" transform="rotate(21 26.6 23.3)" fill="#404a5e" opacity="0.8"/>
<ellipse cx="0.5" cy="15.1" rx="1.12" ry="0.55" transform="rotate(73 0.5 15.1)" fill="#14161a" opacity="0.8"/>
<ellipse cx="15.9" cy="22.0" rx="1.10" ry="0.49" transform="rotate(79 15.9 22.0)" fill="#5a6478" opacity="0.8"/>
<ellipse cx="5.9" cy="26.9" rx="1.18" ry="0.42" transform="rotate(138 5.9 26.9)" fill="#404a5e" opacity="0.8"/>
<ellipse cx="15.9" cy="26.2" rx="0.75" ry="0.55" transform="rotate(156 15.9 26.2)" fill="#14161a" opacity="0.8"/>
<ellipse cx="20.1" cy="16.2" rx="0.50" ry="0.40" transform="rotate(88 20.1 16.2)" fill="#7a84a0" opacity="0.8"/>
<ellipse cx="13.2" cy="30.6" rx="0.72" ry="0.40" transform="rotate(49 13.2 30.6)" fill="#7a84a0" opacity="0.8"/>
<ellipse cx="6.9" cy="20.0" rx="0.44" ry="0.32" transform="rotate(47 6.9 20.0)" fill="#a0a8bc" opacity="0.8"/>
<ellipse cx="14.2" cy="18.3" rx="0.51" ry="0.54" transform="rotate(61 14.2 18.3)" fill="#14161a" opacity="0.8"/>
<ellipse cx="6.3" cy="19.9" rx="0.72" ry="0.32" transform="rotate(145 6.3 19.9)" fill="#14161a" opacity="0.8"/>
<ellipse cx="3.4" cy="7.7" rx="0.55" ry="0.39" transform="rotate(45 3.4 7.7)" fill="#5a6478" opacity="0.8"/>
<ellipse cx="23.2" cy="18.7" rx="0.98" ry="0.35" transform="rotate(150 23.2 18.7)" fill="#7a84a0" opacity="0.8"/>
<ellipse cx="23.9" cy="15.2" rx="0.62" ry="0.31" transform="rotate(121 23.9 15.2)" fill="#14161a" opacity="0.8"/>
<ellipse cx="11.0" cy="29.1" rx="0.57" ry="0.59" transform="rotate(2 11.0 29.1)" fill="#7a84a0" opacity="0.8"/>
<ellipse cx="15.2" cy="12.0" rx="1.14" ry="0.45" transform="rotate(44 15.2 12.0)" fill="#a0a8bc" opacity="0.8"/>
<ellipse cx="19.4" cy="3.1" rx="1.19" ry="0.33" transform="rotate(138 19.4 3.1)" fill="#14161a" opacity="0.8"/>
<ellipse cx="4.3" cy="27.1" rx="1.13" ry="0.31" transform="rotate(45 4.3 27.1)" fill="#14161a" opacity="0.8"/>
<ellipse cx="19.0" cy="25.2" rx="0.80" ry="0.38" transform="rotate(130 19.0 25.2)" fill="#a0a8bc" opacity="0.8"/>
<ellipse cx="8.4" cy="12.0" rx="0.45" ry="0.50" transform="rotate(56 8.4 12.0)" fill="#14161a" opacity="0.8"/>
<ellipse cx="20.5" cy="23.5" rx="0.57" ry="0.52" transform="rotate(133 20.5 23.5)" fill="#14161a" opacity="0.8"/>
<ellipse cx="12.7" cy="24.8" rx="0.52" ry="0.41" transform="rotate(63 12.7 24.8)" fill="#5a6478" opacity="0.8"/>
<ellipse cx="13.5" cy="19.5" rx="0.72" ry="0.40" transform="rotate(90 13.5 19.5)" fill="#14161a" opacity="0.8"/>
<ellipse cx="21.7" cy="6.1" rx="0.54" ry="0.32" transform="rotate(4 21.7 6.1)" fill="#14161a" opacity="0.8"/>
<ellipse cx="32.9" cy="35.8" rx="1.17" ry="0.37" transform="rotate(77 32.9 35.8)" fill="#14161a" opacity="0.8"/>
<ellipse cx="17.7" cy="0.5" rx="0.46" ry="0.42" transform="rotate(146 17.7 0.5)" fill="#a0a8bc" opacity="0.8"/>
<ellipse cx="24.7" cy="8.4" rx="0.41" ry="0.52" transform="rotate(95 24.7 8.4)" fill="#404a5e" opacity="0.8"/>
<ellipse cx="6.2" cy="28.0" rx="0.89" ry="0.57" transform="rotate(38 6.2 28.0)" fill="#404a5e" opacity="0.8"/>
<ellipse cx="7.9" cy="11.3" rx="0.49" ry="0.55" transform="rotate(102 7.9 11.3)" fill="#404a5e" opacity="0.8"/>
<ellipse cx="14.2" cy="9.4" rx="1.07" ry="0.45" transform="rotate(84 14.2 9.4)" fill="#14161a" opacity="0.8"/>
<ellipse cx="6.1" cy="12.1" rx="0.43" ry="0.49" transform="rotate(93 6.1 12.1)" fill="#14161a" opacity="0.8"/>
<ellipse cx="14.0" cy="21.7" rx="0.66" ry="0.46" transform="rotate(10 14.0 21.7)" fill="#a0a8bc" opacity="0.8"/>
<ellipse cx="27.6" cy="18.3" rx="0.99" ry="0.60" transform="rotate(56 27.6 18.3)" fill="#14161a" opacity="0.8"/>
<ellipse cx="34.4" cy="26.6" rx="1.12" ry="0.33" transform="rotate(136 34.4 26.6)" fill="#5a6478" opacity="0.8"/>
<ellipse cx="20.7" cy="8.0" rx="1.06" ry="0.54" transform="rotate(169 20.7 8.0)" fill="#14161a" opacity="0.8"/>
<ellipse cx="14.4" cy="26.0" rx="0.43" ry="0.40" transform="rotate(33 14.4 26.0)" fill="#14161a" opacity="0.8"/>
<ellipse cx="17.6" cy="9.7" rx="1.09" ry="0.36" transform="rotate(97 17.6 9.7)" fill="#a0a8bc" opacity="0.8"/>
<ellipse cx="20.2" cy="17.4" rx="0.75" ry="0.53" transform="rotate(19 20.2 17.4)" fill="#5a6478" opacity="0.8"/>
<ellipse cx="22.9" cy="23.6" rx="1.10" ry="0.59" transform="rotate(10 22.9 23.6)" fill="#7a84a0" opacity="0.8"/>
<ellipse cx="15.8" cy="14.1" rx="0.48" ry="0.31" transform="rotate(66 15.8 14.1)" fill="#a0a8bc" opacity="0.8"/>
<ellipse cx="19.9" cy="17.2" rx="0.73" ry="0.48" transform="rotate(52 19.9 17.2)" fill="#7a84a0" opacity="0.8"/>
<ellipse cx="21.0" cy="8.9" rx="0.46" ry="0.60" transform="rotate(162 21.0 8.9)" fill="#5a6478" opacity="0.8"/>
<ellipse cx="7.7" cy="17.4" rx="1.18" ry="0.47" transform="rotate(172 7.7 17.4)" fill="#14161a" opacity="0.8"/>
<ellipse cx="3.9" cy="30.5" rx="1.08" ry="0.58" transform="rotate(126 3.9 30.5)" fill="#404a5e" opacity="0.8"/>
<ellipse cx="4.7" cy="10.6" rx="0.50" ry="0.51" transform="rotate(33 4.7 10.6)" fill="#14161a" opacity="0.8"/>
<ellipse cx="20.7" cy="20.9" rx="0.68" ry="0.49" transform="rotate(47 20.7 20.9)" fill="#a0a8bc" opacity="0.8"/>
<ellipse cx="23.1" cy="46.6" rx="0.99" ry="0.41" transform="rotate(124 23.1 46.6)" fill="#a0a8bc" opacity="0.8"/>
<ellipse cx="15.2" cy="13.0" rx="0.61" ry="0.41" transform="rotate(13 15.2 13.0)" fill="#14161a" opacity="0.8"/>
<ellipse cx="7.1" cy="24.4" rx="1.15" ry="0.40" transform="rotate(91 7.1 24.4)" fill="#404a5e" opacity="0.8"/>
<ellipse cx="6.4" cy="24.2" rx="0.50" ry="0.56" transform="rotate(21 6.4 24.2)" fill="#7a84a0" opacity="0.8"/>
<ellipse cx="10.6" cy="10.1" rx="0.71" ry="0.52" transform="rotate(168 10.6 10.1)" fill="#14161a" opacity="0.8"/>
<ellipse cx="16.6" cy="31.6" rx="0.67" ry="0.48" transform="rotate(66 16.6 31.6)" fill="#404a5e" opacity="0.8"/>
<ellipse cx="20.9" cy="16.9" rx="0.94" ry="0.37" transform="rotate(125 20.9 16.9)" fill="#14161a" opacity="0.8"/>
<ellipse cx="6.9" cy="27.5" rx="0.71" ry="0.38" transform="rotate(156 6.9 27.5)" fill="#7a84a0" opacity="0.8"/>
<ellipse cx="21.2" cy="3.2" rx="0.84" ry="0.33" transform="rotate(106 21.2 3.2)" fill="#5a6478" opacity="0.8"/>
<ellipse cx="21.0" cy="23.5" rx="0.98" ry="0.50" transform="rotate(67 21.0 23.5)" fill="#a0a8bc" opacity="0.8"/>
<ellipse cx="29.2" cy="17.9" rx="0.93" ry="0.35" transform="rotate(157 29.2 17.9)" fill="#7a84a0" opacity="0.8"/>
<ellipse cx="8.7" cy="26.7" rx="0.94" ry="0.48" transform="rotate(57 8.7 26.7)" fill="#5a6478" opacity="0.8"/>
<ellipse cx="39.3" cy="14.8" rx="1.06" ry="0.49" transform="rotate(71 39.3 14.8)" fill="#404a5e" opacity="0.8"/>
<ellipse cx="16.6" cy="21.0" rx="0.92" ry="0.54" transform="rotate(180 16.6 21.0)" fill="#5a6478" opacity="0.8"/>
<ellipse cx="4.0" cy="17.7" rx="1.06" ry="0.45" transform="rotate(90 4.0 17.7)" fill="#7a84a0" opacity="0.8"/>
<ellipse cx="14.3" cy="15.2" rx="0.92" ry="0.49" transform="rotate(30 14.3 15.2)" fill="#404a5e" opacity="0.8"/>
<ellipse cx="24.3" cy="11.6" rx="0.78" ry="0.57" transform="rotate(175 24.3 11.6)" fill="#14161a" opacity="0.8"/>
<ellipse cx="13.1" cy="19.3" rx="1.16" ry="0.57" transform="rotate(155 13.1 19.3)" fill="#7a84a0" opacity="0.8"/>
<ellipse cx="20.9" cy="24.9" rx="1.18" ry="0.53" transform="rotate(101 20.9 24.9)" fill="#7a84a0" opacity="0.8"/>
<ellipse cx="11.5" cy="29.2" rx="0.85" ry="0.34" transform="rotate(22 11.5 29.2)" fill="#7a84a0" opacity="0.8"/>
<ellipse cx="7.6" cy="18.5" rx="0.60" ry="0.48" transform="rotate(63 7.6 18.5)" fill="#14161a" opacity="0.8"/>
<ellipse cx="19.8" cy="21.1" rx="0.85" ry="0.44" transform="rotate(81 19.8 21.1)" fill="#7a84a0" opacity="0.8"/>
<ellipse cx="18.0" cy="9.1" rx="0.85" ry="0.35" transform="rotate(26 18.0 9.1)" fill="#14161a" opacity="0.8"/>
<ellipse cx="2.3" cy="7.4" rx="0.73" ry="0.30" transform="rotate(173 2.3 7.4)" fill="#5a6478" opacity="0.8"/>
<ellipse cx="15.6" cy="14.9" rx="0.70" ry="0.39" transform="rotate(133 15.6 14.9)" fill="#14161a" opacity="0.8"/>
<ellipse cx="18.3" cy="19.8" rx="1.17" ry="0.49" transform="rotate(54 18.3 19.8)" fill="#7a84a0" opacity="0.8"/>
<ellipse cx="9.3" cy="23.8" rx="0.83" ry="0.50" transform="rotate(39 9.3 23.8)" fill="#14161a" opacity="0.8"/>
<ellipse cx="10.1" cy="28.2" rx="1.11" ry="0.58" transform="rotate(118 10.1 28.2)" fill="#14161a" opacity="0.8"/>
<ellipse cx="32.7" cy="16.6" rx="0.90" ry="0.38" transform="rotate(17 32.7 16.6)" fill="#14161a" opacity="0.8"/>
<ellipse cx="14.1" cy="27.6" rx="0.78" ry="0.41" transform="rotate(77 14.1 27.6)" fill="#14161a" opacity="0.8"/>
<ellipse cx="12.5" cy="22.9" rx="0.82" ry="0.35" transform="rotate(56 12.5 22.9)" fill="#14161a" opacity="0.8"/>
<ellipse cx="6.8" cy="16.3" rx="0.48" ry="0.41" transform="rotate(40 6.8 16.3)" fill="#a0a8bc" opacity="0.8"/>
<ellipse cx="2.0" cy="36.1" rx="0.82" ry="0.52" transform="rotate(94 2.0 36.1)" fill="#a0a8bc" opacity="0.8"/>
<ellipse cx="-2.8" cy="32.0" rx="0.87" ry="0.59" transform="rotate(1 -2.8 32.0)" fill="#a0a8bc" opacity="0.8"/>
<ellipse cx="26.5" cy="15.8" rx="0.57" ry="0.53" transform="rotate(151 26.5 15.8)" fill="#7a84a0" opacity="0.8"/>
<ellipse cx="10.8" cy="28.7" rx="1.00" ry="0.32" transform="rotate(93 10.8 28.7)" fill="#7a84a0" opacity="0.8"/>
<ellipse cx="16.9" cy="30.7" rx="1.15" ry="0.49" transform="rotate(145 16.9 30.7)" fill="#a0a8bc" opacity="0.8"/>
<ellipse cx="9.1" cy="23.3" rx="0.47" ry="0.60" transform="rotate(122 9.1 23.3)" fill="#a0a8bc" opacity="0.8"/>
<ellipse cx="11.2" cy="25.9" rx="1.03" ry="0.49" transform="rotate(147 11.2 25.9)" fill="#7a84a0" opacity="0.8"/>
<ellipse cx="23.8" cy="19.0" rx="0.47" ry="0.34" transform="rotate(71 23.8 19.0)" fill="#a0a8bc" opacity="0.8"/>
<ellipse cx="13.4" cy="17.5" rx="1.00" ry="0.47" transform="rotate(168 13.4 17.5)" fill="#7a84a0" opacity="0.8"/>
<ellipse cx="18.6" cy="9.8" rx="0.90" ry="0.57" transform="rotate(60 18.6 9.8)" fill="#7a84a0" opacity="0.8"/>
<ellipse cx="16.1" cy="22.3" rx="0.51" ry="0.53" transform="rotate(123 16.1 22.3)" fill="#404a5e" opacity="0.8"/>
<ellipse cx="10.8" cy="20.7" rx="0.99" ry="0.32" transform="rotate(58 10.8 20.7)" fill="#7a84a0" opacity="0.8"/>
<ellipse cx="21.7" cy="16.7" rx="0.97" ry="0.51" transform="rotate(150 21.7 16.7)" fill="#14161a" opacity="0.8"/>
<ellipse cx="7.2" cy="39.8" rx="1.14" ry="0.36" transform="rotate(101 7.2 39.8)" fill="#14161a" opacity="0.8"/>
<ellipse cx="12.5" cy="23.4" rx="0.52" ry="0.38" transform="rotate(171 12.5 23.4)" fill="#14161a" opacity="0.8"/>
<ellipse cx="22.8" cy="20.9" rx="0.94" ry="0.58" transform="rotate(68 22.8 20.9)" fill="#14161a" opacity="0.8"/>
<ellipse cx="1.3" cy="25.2" rx="0.79" ry="0.46" transform="rotate(92 1.3 25.2)" fill="#5a6478" opacity="0.8"/>
<ellipse cx="15.5" cy="11.1" rx="1.06" ry="0.50" transform="rotate(3 15.5 11.1)" fill="#14161a" opacity="0.8"/>
<ellipse cx="6.4" cy="13.1" rx="0.86" ry="0.55" transform="rotate(70 6.4 13.1)" fill="#a0a8bc" opacity="0.8"/>
<ellipse cx="15.1" cy="14.0" rx="0.72" ry="0.33" transform="rotate(127 15.1 14.0)" fill="#14161a" opacity="0.8"/>
<ellipse cx="15.1" cy="26.0" rx="0.86" ry="0.38" transform="rotate(131 15.1 26.0)" fill="#7a84a0" opacity="0.8"/>
<ellipse cx="16.5" cy="12.5" rx="0.57" ry="0.57" transform="rotate(44 16.5 12.5)" fill="#7a84a0" opacity="0.8"/>
<ellipse cx="-5.8" cy="10.0" rx="0.76" ry="0.45" transform="rotate(164 -5.8 10.0)" fill="#5a6478" opacity="0.8"/>
<ellipse cx="18.8" cy="30.5" rx="0.80" ry="0.35" transform="rotate(122 18.8 30.5)" fill="#404a5e" opacity="0.8"/>
<ellipse cx="11.7" cy="23.3" rx="0.79" ry="0.43" transform="rotate(88 11.7 23.3)" fill="#a0a8bc" opacity="0.8"/>
<ellipse cx="15.7" cy="15.2" rx="0.57" ry="0.36" transform="rotate(141 15.7 15.2)" fill="#14161a" opacity="0.8"/>
<ellipse cx="13.9" cy="10.8" rx="0.55" ry="0.35" transform="rotate(29 13.9 10.8)" fill="#a0a8bc" opacity="0.8"/>
<ellipse cx="11.7" cy="11.1" rx="0.97" ry="0.39" transform="rotate(171 11.7 11.1)" fill="#404a5e" opacity="0.8"/>
<ellipse cx="18.3" cy="18.5" rx="0.54" ry="0.57" transform="rotate(64 18.3 18.5)" fill="#404a5e" opacity="0.8"/>
<ellipse cx="12.9" cy="25.6" rx="0.79" ry="0.38" transform="rotate(24 12.9 25.6)" fill="#a0a8bc" opacity="0.8"/>
<ellipse cx="19.7" cy="-1.8" rx="0.71" ry="0.55" transform="rotate(27 19.7 -1.8)" fill="#14161a" opacity="0.8"/>
<ellipse cx="21.2" cy="9.2" rx="0.99" ry="0.46" transform="rotate(98 21.2 9.2)" fill="#404a5e" opacity="0.8"/>
<ellipse cx="11.4" cy="7.5" rx="0.65" ry="0.43" transform="rotate(115 11.4 7.5)" fill="#a0a8bc" opacity="0.8"/>
<ellipse cx="8.7" cy="9.8" rx="0.95" ry="0.40" transform="rotate(87 8.7 9.8)" fill="#5a6478" opacity="0.8"/>
<ellipse cx="23.4" cy="15.3" rx="0.68" ry="0.37" transform="rotate(102 23.4 15.3)" fill="#14161a" opacity="0.8"/>
<ellipse cx="29.1" cy="32.7" rx="0.46" ry="0.57" transform="rotate(118 29.1 32.7)" fill="#7a84a0" opacity="0.8"/>
<ellipse cx="33.1" cy="9.7" rx="0.69" ry="0.41" transform="rotate(35 33.1 9.7)" fill="#5a6478" opacity="0.8"/>
<ellipse cx="25.5" cy="24.0" rx="0.42" ry="0.47" transform="rotate(12 25.5 24.0)" fill="#404a5e" opacity="0.8"/>
<ellipse cx="35.9" cy="15.1" rx="0.83" ry="0.43" transform="rotate(166 35.9 15.1)" fill="#404a5e" opacity="0.8"/>
<ellipse cx="18.4" cy="29.1" rx="0.80" ry="0.36" transform="rotate(64 18.4 29.1)" fill="#404a5e" opacity="0.8"/>
<ellipse cx="18.0" cy="21.9" rx="0.95" ry="0.31" transform="rotate(35 18.0 21.9)" fill="#14161a" opacity="0.8"/>
<ellipse cx="29.0" cy="29.2" rx="0.58" ry="0.38" transform="rotate(46 29.0 29.2)" fill="#5a6478" opacity="0.8"/>
<ellipse cx="33.9" cy="15.7" rx="1.09" ry="0.58" transform="rotate(167 33.9 15.7)" fill="#7a84a0" opacity="0.8"/>
<ellipse cx="3.5" cy="8.9" rx="0.86" ry="0.57" transform="rotate(179 3.5 8.9)" fill="#a0a8bc" opacity="0.8"/>
<ellipse cx="17.6" cy="17.4" rx="1.17" ry="0.31" transform="rotate(93 17.6 17.4)" fill="#7a84a0" opacity="0.8"/>
<ellipse cx="12.5" cy="26.3" rx="0.73" ry="0.34" transform="rotate(178 12.5 26.3)" fill="#5a6478" opacity="0.8"/>
<ellipse cx="10.8" cy="8.9" rx="1.01" ry="0.54" transform="rotate(104 10.8 8.9)" fill="#7a84a0" opacity="0.8"/>
<ellipse cx="0.6" cy="35.4" rx="0.72" ry="0.37" transform="rotate(39 0.6 35.4)" fill="#a0a8bc" opacity="0.8"/>
<ellipse cx="10.7" cy="26.1" rx="1.02" ry="0.38" transform="rotate(3 10.7 26.1)" fill="#14161a" opacity="0.8"/>
<ellipse cx="5.7" cy="29.5" rx="0.68" ry="0.50" transform="rotate(94 5.7 29.5)" fill="#14161a" opacity="0.8"/>
<ellipse cx="16.6" cy="23.6" rx="0.78" ry="0.54" transform="rotate(46 16.6 23.6)" fill="#a0a8bc" opacity="0.8"/>
<ellipse cx="19.3" cy="31.4" rx="0.88" ry="0.47" transform="rotate(110 19.3 31.4)" fill="#14161a" opacity="0.8"/>
<ellipse cx="18.2" cy="15.0" rx="0.64" ry="0.40" transform="rotate(42 18.2 15.0)" fill="#404a5e" opacity="0.8"/>
<ellipse cx="15.1" cy="21.3" rx="0.47" ry="0.51" transform="rotate(45 15.1 21.3)" fill="#14161a" opacity="0.8"/>
<ellipse cx="14.7" cy="25.3" rx="1.19" ry="0.41" transform="rotate(75 14.7 25.3)" fill="#a0a8bc" opacity="0.8"/>
<ellipse cx="17.3" cy="20.5" rx="1.20" ry="0.43" transform="rotate(150 17.3 20.5)" fill="#404a5e" opacity="0.8"/>
<ellipse cx="16.0" cy="11.0" rx="0.70" ry="0.39" transform="rotate(142 16.0 11.0)" fill="#14161a" opacity="0.8"/>
<ellipse cx="17.3" cy="17.8" rx="1.13" ry="0.32" transform="rotate(175 17.3 17.8)" fill="#7a84a0" opacity="0.8"/>
<ellipse cx="12.4" cy="21.3" rx="0.51" ry="0.36" transform="rotate(165 12.4 21.3)" fill="#14161a" opacity="0.8"/>
<ellipse cx="32.5" cy="13.9" rx="1.14" ry="0.34" transform="rotate(62 32.5 13.9)" fill="#404a5e" opacity="0.8"/>
<ellipse cx="13.5" cy="21.4" rx="0.96" ry="0.37" transform="rotate(43 13.5 21.4)" fill="#404a5e" opacity="0.8"/>
<ellipse cx="23.4" cy="10.2" rx="0.98" ry="0.58" transform="rotate(66 23.4 10.2)" fill="#5a6478" opacity="0.8"/>
<ellipse cx="17.4" cy="17.7" rx="0.68" ry="0.31" transform="rotate(33 17.4 17.7)" fill="#a0a8bc" opacity="0.8"/>
<ellipse cx="9.9" cy="29.7" rx="0.82" ry="0.54" transform="rotate(49 9.9 29.7)" fill="#14161a" opacity="0.8"/>
<ellipse cx="15.3" cy="8.0" rx="0.47" ry="0.37" transform="rotate(170 15.3 8.0)" fill="#7a84a0" opacity="0.8"/>
<ellipse cx="33.7" cy="7.4" rx="0.94" ry="0.36" transform="rotate(168 33.7 7.4)" fill="#a0a8bc" opacity="0.8"/>
<ellipse cx="12.1" cy="15.8" rx="1.11" ry="0.48" transform="rotate(87 12.1 15.8)" fill="#a0a8bc" opacity="0.8"/>
<ellipse cx="2.2" cy="8.5" rx="0.55" ry="0.58" transform="rotate(84 2.2 8.5)" fill="#404a5e" opacity="0.8"/>
<ellipse cx="27.9" cy="21.3" rx="0.44" ry="0.35" transform="rotate(72 27.9 21.3)" fill="#5a6478" opacity="0.8"/>
<ellipse cx="2.4" cy="28.7" rx="0.42" ry="0.43" transform="rotate(173 2.4 28.7)" fill="#14161a" opacity="0.8"/>
<ellipse cx="12.3" cy="16.9" rx="0.67" ry="0.35" transform="rotate(4 12.3 16.9)" fill="#7a84a0" opacity="0.8"/>
<ellipse cx="6.5" cy="33.9" rx="0.95" ry="0.38" transform="rotate(101 6.5 33.9)" fill="#404a5e" opacity="0.8"/>
<ellipse cx="11.4" cy="26.7" rx="0.86" ry="0.43" transform="rotate(159 11.4 26.7)" fill="#14161a" opacity="0.8"/>
<ellipse cx="9.2" cy="15.4" rx="0.79" ry="0.50" transform="rotate(171 9.2 15.4)" fill="#14161a" opacity="0.8"/>
<ellipse cx="24.5" cy="4.2" rx="0.81" ry="0.60" transform="rotate(29 24.5 4.2)" fill="#a0a8bc" opacity="0.8"/>
<ellipse cx="16.3" cy="-1.9" rx="0.84" ry="0.42" transform="rotate(56 16.3 -1.9)" fill="#404a5e" opacity="0.8"/>
<ellipse cx="20.7" cy="16.6" rx="0.95" ry="0.40" transform="rotate(17 20.7 16.6)" fill="#14161a" opacity="0.8"/>
<ellipse cx="24.6" cy="28.6" rx="0.92" ry="0.51" transform="rotate(144 24.6 28.6)" fill="#404a5e" opacity="0.8"/>
<ellipse cx="8.2" cy="19.2" rx="0.91" ry="0.44" transform="rotate(103 8.2 19.2)" fill="#7a84a0" opacity="0.8"/>
<ellipse cx="9.7" cy="30.6" rx="0.51" ry="0.31" transform="rotate(11 9.7 30.6)" fill="#14161a" opacity="0.8"/>
<ellipse cx="11.4" cy="20.3" rx="0.59" ry="0.55" transform="rotate(144 11.4 20.3)" fill="#7a84a0" opacity="0.8"/>
<ellipse cx="14.0" cy="38.4" rx="0.74" ry="0.47" transform="rotate(91 14.0 38.4)" fill="#7a84a0" opacity="0.8"/>
<ellipse cx="5.3" cy="19.7" rx="1.07" ry="0.45" transform="rotate(52 5.3 19.7)" fill="#a0a8bc" opacity="0.8"/>
<ellipse cx="24.8" cy="13.2" rx="0.76" ry="0.39" transform="rotate(124 24.8 13.2)" fill="#404a5e" opacity="0.8"/>
<ellipse cx="25.0" cy="12.2" rx="0.97" ry="0.54" transform="rotate(144 25.0 12.2)" fill="#5a6478" opacity="0.8"/>
<ellipse cx="21.2" cy="25.9" rx="0.44" ry="0.54" transform="rotate(129 21.2 25.9)" fill="#14161a" opacity="0.8"/>
<ellipse cx="9.6" cy="10.5" rx="0.94" ry="0.42" transform="rotate(116 9.6 10.5)" fill="#404a5e" opacity="0.8"/>
<ellipse cx="29.0" cy="0.6" rx="0.61" ry="0.39" transform="rotate(29 29.0 0.6)" fill="#14161a" opacity="0.8"/>
<ellipse cx="12.6" cy="24.4" rx="1.01" ry="0.60" transform="rotate(125 12.6 24.4)" fill="#14161a" opacity="0.8"/>
<ellipse cx="6.6" cy="6.9" rx="0.75" ry="0.42" transform="rotate(120 6.6 6.9)" fill="#14161a" opacity="0.8"/>
<ellipse cx="18.1" cy="1.1" rx="1.15" ry="0.49" transform="rotate(102 18.1 1.1)" fill="#14161a" opacity="0.8"/>
<ellipse cx="16.5" cy="33.0" rx="1.11" ry="0.45" transform="rotate(7 16.5 33.0)" fill="#5a6478" opacity="0.8"/>
<ellipse cx="15.8" cy="31.4" rx="0.52" ry="0.43" transform="rotate(21 15.8 31.4)" fill="#14161a" opacity="0.8"/>
<ellipse cx="13.8" cy="24.7" rx="0.95" ry="0.58" transform="rotate(117 13.8 24.7)" fill="#a0a8bc" opacity="0.8"/>
<ellipse cx="13.2" cy="21.6" rx="0.83" ry="0.47" transform="rotate(5 13.2 21.6)" fill="#a0a8bc" opacity="0.8"/>
<ellipse cx="27.9" cy="15.4" rx="0.62" ry="0.46" transform="rotate(60 27.9 15.4)" fill="#14161a" opacity="0.8"/>
<ellipse cx="17.8" cy="20.6" rx="0.44" ry="0.53" transform="rotate(127 17.8 20.6)" fill="#14161a" opacity="0.8"/>
<ellipse cx="14.5" cy="25.0" rx="0.59" ry="0.40" transform="rotate(105 14.5 25.0)" fill="#7a84a0" opacity="0.8"/>
<ellipse cx="3.7" cy="38.2" rx="1.09" ry="0.56" transform="rotate(53 3.7 38.2)" fill="#14161a" opacity="0.8"/>
<ellipse cx="7.5" cy="23.7" rx="0.78" ry="0.59" transform="rotate(42 7.5 23.7)" fill="#7a84a0" opacity="0.8"/>
<ellipse cx="6.3" cy="23.4" rx="0.90" ry="0.54" transform="rotate(75 6.3 23.4)" fill="#14161a" opacity="0.8"/>
<ellipse cx="19.5" cy="15.1" rx="1.20" ry="0.46" transform="rotate(97 19.5 15.1)" fill="#5a6478" opacity="0.8"/>
<ellipse cx="24.3" cy="43.1" rx="0.55" ry="0.59" transform="rotate(111 24.3 43.1)" fill="#404a5e" opacity="0.8"/>
<ellipse cx="-1.6" cy="8.3" rx="1.04" ry="0.31" transform="rotate(48 -1.6 8.3)" fill="#7a84a0" opacity="0.8"/>
<ellipse cx="6.3" cy="21.6" rx="0.78" ry="0.59" transform="rotate(19 6.3 21.6)" fill="#7a84a0" opacity="0.8"/>
<ellipse cx="14.0" cy="18.8" rx="0.89" ry="0.56" transform="rotate(84 14.0 18.8)" fill="#14161a" opacity="0.8"/>
<ellipse cx="0.5" cy="19.2" rx="1.05" ry="0.37" transform="rotate(44 0.5 19.2)" fill="#14161a" opacity="0.8"/>
<ellipse cx="11.6" cy="21.1" rx="0.60" ry="0.47" transform="rotate(102 11.6 21.1)" fill="#14161a" opacity="0.8"/>
<ellipse cx="17.6" cy="19.4" rx="0.77" ry="0.33" transform="rotate(70 17.6 19.4)" fill="#5a6478" opacity="0.8"/>
<ellipse cx="20.0" cy="10.7" rx="0.65" ry="0.60" transform="rotate(106 20.0 10.7)" fill="#7a84a0" opacity="0.8"/>
<ellipse cx="13.6" cy="20.6" rx="0.98" ry="0.47" transform="rotate(150 13.6 20.6)" fill="#404a5e" opacity="0.8"/>
<ellipse cx="1.1" cy="30.2" rx="1.03" ry="0.51" transform="rotate(46 1.1 30.2)" fill="#14161a" opacity="0.8"/>
<ellipse cx="17.6" cy="31.8" rx="0.75" ry="0.36" transform="rotate(37 17.6 31.8)" fill="#7a84a0" opacity="0.8"/>
<ellipse cx="8.7" cy="23.1" rx="0.76" ry="0.44" transform="rotate(139 8.7 23.1)" fill="#14161a" opacity="0.8"/>
<ellipse cx="7.0" cy="21.5" rx="1.18" ry="0.54" transform="rotate(162 7.0 21.5)" fill="#14161a" opacity="0.8"/>
<ellipse cx="16.9" cy="16.7" rx="0.58" ry="0.48" transform="rotate(41 16.9 16.7)" fill="#14161a" opacity="0.8"/>
<ellipse cx="7.9" cy="7.9" rx="0.92" ry="0.37" transform="rotate(78 7.9 7.9)" fill="#7a84a0" opacity="0.8"/>
<ellipse cx="-7.2" cy="12.9" rx="0.97" ry="0.31" transform="rotate(62 -7.2 12.9)" fill="#14161a" opacity="0.8"/>
<ellipse cx="9.8" cy="26.9" rx="0.70" ry="0.56" transform="rotate(16 9.8 26.9)" fill="#a0a8bc" opacity="0.8"/>
<ellipse cx="19.8" cy="18.8" rx="0.45" ry="0.47" transform="rotate(164 19.8 18.8)" fill="#5a6478" opacity="0.8"/>
<ellipse cx="18.7" cy="11.3" rx="0.97" ry="0.53" transform="rotate(106 18.7 11.3)" fill="#404a5e" opacity="0.8"/>
<ellipse cx="8.5" cy="26.7" rx="0.94" ry="0.42" transform="rotate(46 8.5 26.7)" fill="#5a6478" opacity="0.8"/>
<ellipse cx="18.8" cy="18.6" rx="0.66" ry="0.52" transform="rotate(141 18.8 18.6)" fill="#7a84a0" opacity="0.8"/>
<ellipse cx="12.9" cy="30.5" rx="0.80" ry="0.35" transform="rotate(95 12.9 30.5)" fill="#404a5e" opacity="0.8"/>
<ellipse cx="17.0" cy="8.9" rx="1.12" ry="0.59" transform="rotate(88 17.0 8.9)" fill="#404a5e" opacity="0.8"/>
<ellipse cx="21.2" cy="28.7" rx="0.82" ry="0.60" transform="rotate(83 21.2 28.7)" fill="#14161a" opacity="0.8"/>
<ellipse cx="21.1" cy="20.1" rx="0.44" ry="0.30" transform="rotate(78 21.1 20.1)" fill="#14161a" opacity="0.8"/>
<ellipse cx="10.1" cy="6.1" rx="0.70" ry="0.38" transform="rotate(149 10.1 6.1)" fill="#a0a8bc" opacity="0.8"/>
<ellipse cx="6.0" cy="13.9" rx="0.72" ry="0.42" transform="rotate(97 6.0 13.9)" fill="#a0a8bc" opacity="0.8"/>
<ellipse cx="3.9" cy="6.8" rx="0.57" ry="0.31" transform="rotate(110 3.9 6.8)" fill="#7a84a0" opacity="0.8"/>
<ellipse cx="13.3" cy="17.4" rx="0.42" ry="0.32" transform="rotate(34 13.3 17.4)" fill="#14161a" opacity="0.8"/>
<ellipse cx="29.1" cy="21.9" rx="0.57" ry="0.51" transform="rotate(155 29.1 21.9)" fill="#404a5e" opacity="0.8"/>
<ellipse cx="8.1" cy="33.8" rx="1.08" ry="0.51" transform="rotate(163 8.1 33.8)" fill="#7a84a0" opacity="0.8"/>
<ellipse cx="0.8" cy="24.9" rx="0.89" ry="0.60" transform="rotate(103 0.8 24.9)" fill="#5a6478" opacity="0.8"/>
<ellipse cx="4.1" cy="15.3" rx="0.92" ry="0.58" transform="rotate(58 4.1 15.3)" fill="#14161a" opacity="0.8"/>
<ellipse cx="18.3" cy="15.3" rx="0.87" ry="0.53" transform="rotate(33 18.3 15.3)" fill="#14161a" opacity="0.8"/>
<ellipse cx="6.8" cy="30.1" rx="1.11" ry="0.56" transform="rotate(39 6.8 30.1)" fill="#5a6478" opacity="0.8"/>
<ellipse cx="11.7" cy="19.4" rx="0.94" ry="0.56" transform="rotate(89 11.7 19.4)" fill="#404a5e" opacity="0.8"/>
<ellipse cx="28.7" cy="25.6" rx="0.87" ry="0.33" transform="rotate(98 28.7 25.6)" fill="#7a84a0" opacity="0.8"/>
<ellipse cx="3.2" cy="10.6" rx="0.83" ry="0.42" transform="rotate(89 3.2 10.6)" fill="#7a84a0" opacity="0.8"/>
<ellipse cx="-0.7" cy="28.7" rx="0.84" ry="0.31" transform="rotate(111 -0.7 28.7)" fill="#5a6478" opacity="0.8"/>
<ellipse cx="12.1" cy="11.5" rx="0.63" ry="0.47" transform="rotate(84 12.1 11.5)" fill="#a0a8bc" opacity="0.8"/>
<ellipse cx="14.5" cy="19.8" rx="0.64" ry="0.30" transform="rotate(166 14.5 19.8)" fill="#a0a8bc" opacity="0.8"/>
<ellipse cx="10.5" cy="30.2" rx="0.49" ry="0.55" transform="rotate(48 10.5 30.2)" fill="#14161a" opacity="0.8"/>
<ellipse cx="12.2" cy="13.8" rx="1.10" ry="0.56" transform="rotate(98 12.2 13.8)" fill="#404a5e" opacity="0.8"/>
<ellipse cx="2.5" cy="23.9" rx="1.05" ry="0.41" transform="rotate(44 2.5 23.9)" fill="#a0a8bc" opacity="0.8"/>
<ellipse cx="4.9" cy="21.2" rx="1.03" ry="0.57" transform="rotate(96 4.9 21.2)" fill="#5a6478" opacity="0.8"/>
<ellipse cx="13.0" cy="26.4" rx="0.92" ry="0.31" transform="rotate(70 13.0 26.4)" fill="#14161a" opacity="0.8"/>
<ellipse cx="13.3" cy="24.7" rx="1.07" ry="0.51" transform="rotate(156 13.3 24.7)" fill="#404a5e" opacity="0.8"/>
<ellipse cx="1.2" cy="34.6" rx="0.80" ry="0.37" transform="rotate(16 1.2 34.6)" fill="#14161a" opacity="0.8"/>
<ellipse cx="32.3" cy="17.9" rx="0.46" ry="0.37" transform="rotate(150 32.3 17.9)" fill="#a0a8bc" opacity="0.8"/>
<ellipse cx="5.2" cy="16.1" rx="1.09" ry="0.46" transform="rotate(56 5.2 16.1)" fill="#7a84a0" opacity="0.8"/>
<ellipse cx="10.7" cy="18.1" rx="1.04" ry="0.51" transform="rotate(156 10.7 18.1)" fill="#7a84a0" opacity="0.8"/>
<ellipse cx="-8.4" cy="27.8" rx="0.87" ry="0.46" transform="rotate(161 -8.4 27.8)" fill="#7a84a0" opacity="0.8"/>
<ellipse cx="10.2" cy="16.3" rx="1.12" ry="0.50" transform="rotate(84 10.2 16.3)" fill="#5a6478" opacity="0.8"/>
<ellipse cx="25.2" cy="13.9" rx="1.19" ry="0.58" transform="rotate(146 25.2 13.9)" fill="#14161a" opacity="0.8"/>
<ellipse cx="20.1" cy="19.7" rx="0.57" ry="0.32" transform="rotate(118 20.1 19.7)" fill="#a0a8bc" opacity="0.8"/>
<ellipse cx="4.4" cy="38.6" rx="0.48" ry="0.49" transform="rotate(101 4.4 38.6)" fill="#a0a8bc" opacity="0.8"/>
<ellipse cx="19.9" cy="33.9" rx="0.53" ry="0.40" transform="rotate(40 19.9 33.9)" fill="#404a5e" opacity="0.8"/>
<ellipse cx="15.8" cy="14.3" rx="0.42" ry="0.35" transform="rotate(36 15.8 14.3)" fill="#14161a" opacity="0.8"/>
<ellipse cx="0.3" cy="-1.5" rx="1.12" ry="0.52" transform="rotate(145 0.3 -1.5)" fill="#a0a8bc" opacity="0.8"/>
<ellipse cx="7.2" cy="9.7" rx="0.43" ry="0.47" transform="rotate(168 7.2 9.7)" fill="#14161a" opacity="0.8"/>
<ellipse cx="23.0" cy="9.9" rx="0.92" ry="0.42" transform="rotate(70 23.0 9.9)" fill="#404a5e" opacity="0.8"/>
<ellipse cx="20.3" cy="17.7" rx="1.13" ry="0.50" transform="rotate(50 20.3 17.7)" fill="#7a84a0" opacity="0.8"/>
<ellipse cx="14.4" cy="32.9" rx="1.15" ry="0.50" transform="rotate(69 14.4 32.9)" fill="#7a84a0" opacity="0.8"/>
<ellipse cx="26.3" cy="17.3" rx="0.71" ry="0.52" transform="rotate(113 26.3 17.3)" fill="#14161a" opacity="0.8"/>
<ellipse cx="22.7" cy="19.4" rx="0.50" ry="0.38" transform="rotate(106 22.7 19.4)" fill="#7a84a0" opacity="0.8"/>
<ellipse cx="37.0" cy="23.5" rx="0.66" ry="0.34" transform="rotate(67 37.0 23.5)" fill="#14161a" opacity="0.8"/>
<ellipse cx="7.7" cy="9.3" rx="0.41" ry="0.50" transform="rotate(37 7.7 9.3)" fill="#404a5e" opacity="0.8"/>
<ellipse cx="9.1" cy="16.4" rx="0.98" ry="0.32" transform="rotate(34 9.1 16.4)" fill="#7a84a0" opacity="0.8"/>
<ellipse cx="19.9" cy="25.5" rx="0.75" ry="0.41" transform="rotate(41 19.9 25.5)" fill="#5a6478" opacity="0.8"/>
<ellipse cx="15.4" cy="4.6" rx="1.06" ry="0.34" transform="rotate(9 15.4 4.6)" fill="#5a6478" opacity="0.8"/>
<ellipse cx="1.7" cy="6.3" rx="0.92" ry="0.34" transform="rotate(43 1.7 6.3)" fill="#404a5e" opacity="0.8"/>
<ellipse cx="29.3" cy="24.0" rx="1.13" ry="0.31" transform="rotate(108 29.3 24.0)" fill="#7a84a0" opacity="0.8"/>
<ellipse cx="15.1" cy="24.6" rx="0.75" ry="0.32" transform="rotate(81 15.1 24.6)" fill="#14161a" opacity="0.8"/>
<ellipse cx="16.9" cy="23.8" rx="0.70" ry="0.34" transform="rotate(96 16.9 23.8)" fill="#14161a" opacity="0.8"/>
<ellipse cx="14.4" cy="14.9" rx="0.65" ry="0.60" transform="rotate(1 14.4 14.9)" fill="#7a84a0" opacity="0.8"/>
<ellipse cx="17.0" cy="26.6" rx="1.11" ry="0.48" transform="rotate(2 17.0 26.6)" fill="#14161a" opacity="0.8"/>
<ellipse cx="12.9" cy="26.2" rx="0.53" ry="0.54" transform="rotate(120 12.9 26.2)" fill="#a0a8bc" opacity="0.8"/>
<ellipse cx="17.9" cy="17.0" rx="0.61" ry="0.39" transform="rotate(118 17.9 17.0)" fill="#5a6478" opacity="0.8"/>
<ellipse cx="14.5" cy="3.2" rx="1.14" ry="0.36" transform="rotate(126 14.5 3.2)" fill="#14161a" opacity="0.8"/>
<ellipse cx="19.3" cy="12.8" rx="0.85" ry="0.34" transform="rotate(45 19.3 12.8)" fill="#14161a" opacity="0.8"/>
<ellipse cx="19.5" cy="12.6" rx="1.17" ry="0.57" transform="rotate(109 19.5 12.6)" fill="#14161a" opacity="0.8"/>
<ellipse cx="19.5" cy="14.4" rx="0.79" ry="0.38" transform="rotate(42 19.5 14.4)" fill="#14161a" opacity="0.8"/>
<ellipse cx="19.5" cy="26.2" rx="0.51" ry="0.53" transform="rotate(102 19.5 26.2)" fill="#7a84a0" opacity="0.8"/>
<ellipse cx="4.9" cy="23.7" rx="1.16" ry="0.42" transform="rotate(38 4.9 23.7)" fill="#a0a8bc" opacity="0.8"/>
<ellipse cx="-0.4" cy="24.8" rx="0.61" ry="0.41" transform="rotate(178 -0.4 24.8)" fill="#404a5e" opacity="0.8"/>
<ellipse cx="6.6" cy="12.1" rx="0.70" ry="0.48" transform="rotate(47 6.6 12.1)" fill="#404a5e" opacity="0.8"/>
<ellipse cx="14.9" cy="19.0" rx="0.66" ry="0.38" transform="rotate(0 14.9 19.0)" fill="#14161a" opacity="0.8"/>
</g>
</svg>
<svg x="179.1" y="478.7" width="33.1" height="36.9" overflow="hidden">
<rect x="0.00" y="0.00" width="33.10" height="36.90" fill="#443b31" />
<rect x="0.00" y="0.00" width="3.00" height="36.90" fill="#2e2820" filter="url(#b1)"/>
<ellipse cx="20.00" cy="18.00" rx="8.00" ry="9.00" fill="#3c342c" opacity="0.6" filter="url(#b2)"/>
<ellipse cx="18.80" cy="19.50" rx="5.50" ry="6.00" fill="#5e564c" opacity="0.5" filter="url(#b15)"/>
<path d="M15.5 17 L18.5 15 L20.5 16 L22 15.5 L22.5 20 L21.5 24 L19.5 24.5 L18 21.5 L16.5 23.5 L15 22 Z" fill="#c8c2ba" filter="url(#b1)"/>
<ellipse cx="19.20" cy="20.00" rx="0.70" ry="2.50" fill="#6a6058" opacity="0.9" filter="url(#b05)"/>
<ellipse cx="30.50" cy="34.00" rx="2.00" ry="2.00" fill="#5a5e68" opacity="0.6" filter="url(#b1)"/>
</svg>
<text transform="translate(215.70,421.00) scale(0.885,1)" font-size="8.93" text-anchor="start" fill="#1e1e1e" stroke="#1e1e1e" stroke-width="0.3" >shCtrl</text>
<text transform="translate(215.70,461.00) scale(0.885,1)" font-size="8.93" text-anchor="start" fill="#1e1e1e" stroke="#1e1e1e" stroke-width="0.3" >shPUM1-a</text>
<text transform="translate(215.70,500.60) scale(0.885,1)" font-size="8.93" text-anchor="start" fill="#1e1e1e" stroke="#1e1e1e" stroke-width="0.3" >shPUM2-a</text>
<text x="269.60" y="386.30" font-size="11.5" text-anchor="start" fill="#000" font-weight="bold" >G</text>
<text transform="translate(290.00,462.00) rotate(-90) scale(1.0,1)" font-size="8.35" text-anchor="middle" fill="#1e1e1e" stroke="#1e1e1e" stroke-width="0.3"><tspan letter-spacing="0.42">% GFP+ or Tom+ cell</tspan>s</text>
<text transform="translate(302.00,463.20) rotate(-90) scale(1.0,1)" font-size="8.55" text-anchor="middle" fill="#1e1e1e" stroke="#1e1e1e" stroke-width="0.3">among hCD45+ BM cells</text>
<line x1="322.80" y1="411.80" x2="322.80" y2="441.20" stroke="#111" stroke-width="1.3" />
<line x1="322.80" y1="448.40" x2="322.80" y2="475.40" stroke="#111" stroke-width="1.3" />
<line x1="322.80" y1="482.60" x2="322.80" y2="516.70" stroke="#111" stroke-width="1.3" />
<line x1="319.60" y1="414.40" x2="322.80" y2="414.40" stroke="#111" stroke-width="1.25" />
<text transform="translate(316.60,417.10) scale(0.885,1)" font-size="8.70" text-anchor="end" fill="#1e1e1e" stroke="#1e1e1e" stroke-width="0.3" >90</text>
<line x1="319.60" y1="441.00" x2="322.80" y2="441.00" stroke="#111" stroke-width="1.25" />
<text transform="translate(316.60,443.70) scale(0.885,1)" font-size="8.70" text-anchor="end" fill="#1e1e1e" stroke="#1e1e1e" stroke-width="0.3" >70</text>
<line x1="319.60" y1="448.60" x2="322.80" y2="448.60" stroke="#111" stroke-width="1.25" />
<text transform="translate(316.60,451.30) scale(0.885,1)" font-size="8.70" text-anchor="end" fill="#1e1e1e" stroke="#1e1e1e" stroke-width="0.3" >30</text>
<line x1="319.60" y1="475.30" x2="322.80" y2="475.30" stroke="#111" stroke-width="1.25" />
<text transform="translate(316.60,478.00) scale(0.885,1)" font-size="8.70" text-anchor="end" fill="#1e1e1e" stroke="#1e1e1e" stroke-width="0.3" >5</text>
<line x1="319.60" y1="482.70" x2="322.80" y2="482.70" stroke="#111" stroke-width="1.25" />
<text transform="translate(316.60,485.40) scale(0.885,1)" font-size="8.70" text-anchor="end" fill="#1e1e1e" stroke="#1e1e1e" stroke-width="0.3" >4</text>
<line x1="319.60" y1="516.70" x2="322.80" y2="516.70" stroke="#111" stroke-width="1.25" />
<text transform="translate(316.60,519.40) scale(0.885,1)" font-size="8.70" text-anchor="end" fill="#1e1e1e" stroke="#1e1e1e" stroke-width="0.3" >0</text>
<line x1="322.20" y1="516.70" x2="404.70" y2="516.70" stroke="#111" stroke-width="1.4" />
<line x1="429.30" y1="412.30" x2="429.30" y2="441.40" stroke="#111" stroke-width="1.3" />
<line x1="429.30" y1="448.60" x2="429.30" y2="475.40" stroke="#111" stroke-width="1.3" />
<line x1="429.30" y1="482.60" x2="429.30" y2="516.90" stroke="#111" stroke-width="1.3" />
<line x1="426.10" y1="414.60" x2="429.30" y2="414.60" stroke="#111" stroke-width="1.25" />
<text transform="translate(423.10,417.30) scale(0.885,1)" font-size="8.70" text-anchor="end" fill="#1e1e1e" stroke="#1e1e1e" stroke-width="0.3" >30</text>
<line x1="426.10" y1="441.20" x2="429.30" y2="441.20" stroke="#111" stroke-width="1.25" />
<text transform="translate(423.10,443.90) scale(0.885,1)" font-size="8.70" text-anchor="end" fill="#1e1e1e" stroke="#1e1e1e" stroke-width="0.3" >20</text>
<line x1="426.10" y1="448.80" x2="429.30" y2="448.80" stroke="#111" stroke-width="1.25" />
<text transform="translate(423.10,451.50) scale(0.885,1)" font-size="8.70" text-anchor="end" fill="#1e1e1e" stroke="#1e1e1e" stroke-width="0.3" >8</text>
<line x1="426.10" y1="475.20" x2="429.30" y2="475.20" stroke="#111" stroke-width="1.25" />
<text transform="translate(423.10,477.90) scale(0.885,1)" font-size="8.70" text-anchor="end" fill="#1e1e1e" stroke="#1e1e1e" stroke-width="0.3" >5</text>
<line x1="426.10" y1="482.70" x2="429.30" y2="482.70" stroke="#111" stroke-width="1.25" />
<text transform="translate(423.10,485.40) scale(0.885,1)" font-size="8.70" text-anchor="end" fill="#1e1e1e" stroke="#1e1e1e" stroke-width="0.3" >4</text>
<line x1="426.10" y1="516.90" x2="429.30" y2="516.90" stroke="#111" stroke-width="1.25" />
<text transform="translate(423.10,519.60) scale(0.885,1)" font-size="8.70" text-anchor="end" fill="#1e1e1e" stroke="#1e1e1e" stroke-width="0.3" >0</text>
<line x1="428.70" y1="516.70" x2="511.50" y2="516.70" stroke="#111" stroke-width="1.4" />
<line x1="343.30" y1="516.70" x2="343.30" y2="519.80" stroke="#111" stroke-width="1.1" />
<line x1="384.60" y1="516.70" x2="384.60" y2="519.80" stroke="#111" stroke-width="1.1" />
<line x1="450.40" y1="516.90" x2="450.40" y2="520.00" stroke="#111" stroke-width="1.1" />
<line x1="491.50" y1="516.90" x2="491.50" y2="520.00" stroke="#111" stroke-width="1.1" />
<text transform="translate(343.30,529.40) scale(0.885,1)" font-size="8.70" text-anchor="middle" fill="#1e1e1e" stroke="#1e1e1e" stroke-width="0.3" >shCtrl</text>
<text transform="translate(384.60,529.40) scale(0.885,1)" font-size="8.70" text-anchor="middle" fill="#1e1e1e" stroke="#1e1e1e" stroke-width="0.3" >shPUM1-a</text>
<text transform="translate(450.40,529.40) scale(0.885,1)" font-size="8.70" text-anchor="middle" fill="#1e1e1e" stroke="#1e1e1e" stroke-width="0.3" >shCtrl</text>
<text transform="translate(491.50,529.40) scale(0.885,1)" font-size="8.70" text-anchor="middle" fill="#1e1e1e" stroke="#1e1e1e" stroke-width="0.3" >shPUM2-a</text>
<path d="M342.40 399.50 V396.20 H384.30 V399.50" fill="none" stroke="#1a1a1a" stroke-width="1.2"/>
<circle cx="363.40" cy="391.60" r="1.15" fill="#151515"/>
<path d="M450.10 400.20 V396.90 H492.40 V400.20" fill="none" stroke="#1a1a1a" stroke-width="1.2"/>
<circle cx="471.50" cy="391.60" r="1.15" fill="#151515"/>
<line x1="329.50" y1="451.00" x2="357.00" y2="451.00" stroke="#111" stroke-width="1.5" />
<line x1="436.80" y1="452.20" x2="464.00" y2="452.20" stroke="#111" stroke-width="1.5" />
<rect x="341.85" y="413.90" width="2.70" height="4.60" fill="#253e72" />
<rect x="342.05" y="448.60" width="2.70" height="4.60" fill="#253e72" />
<rect x="337.95" y="465.90" width="2.70" height="4.60" fill="#253e72" />
<rect x="342.45" y="469.30" width="2.70" height="4.60" fill="#253e72" />
<rect x="342.05" y="492.50" width="2.70" height="4.60" fill="#253e72" />
<rect x="448.75" y="412.90" width="2.70" height="4.60" fill="#253e72" />
<rect x="448.65" y="455.40" width="2.70" height="4.60" fill="#253e72" />
<rect x="444.95" y="485.80" width="2.70" height="4.60" fill="#253e72" />
<rect x="448.65" y="486.80" width="2.70" height="4.60" fill="#253e72" />
<rect x="448.65" y="506.00" width="2.70" height="4.60" fill="#253e72" />
<rect x="453.25" y="504.60" width="2.70" height="4.60" fill="#253e72" />
<path d="M371 518.6 l1.3 -2.6 l1.3 2.6z" fill="#5a8a40"/>
<path d="M375.3 518.6 l1.3 -2.6 l1.3 2.6z" fill="#5a8a40"/>
<path d="M379.6 518.6 l1.3 -2.6 l1.3 2.6z" fill="#5a8a40"/>
<path d="M383.9 518.6 l1.3 -2.6 l1.3 2.6z" fill="#5a8a40"/>
<path d="M388.2 518.6 l1.3 -2.6 l1.3 2.6z" fill="#5a8a40"/>
<path d="M392.5 518.6 l1.3 -2.6 l1.3 2.6z" fill="#5a8a40"/>
<path d="M396.8 518.6 l1.3 -2.6 l1.3 2.6z" fill="#5a8a40"/>
<line x1="369.50" y1="515.90" x2="398.50" y2="515.90" stroke="#1a1a1a" stroke-width="1.6" />
<path d="M479.5 516.6 l1.4 2.7 l1.4 -2.7z" fill="#3a2456"/>
<path d="M483.8 516.6 l1.4 2.7 l1.4 -2.7z" fill="#3a2456"/>
<path d="M488.1 516.6 l1.4 2.7 l1.4 -2.7z" fill="#3a2456"/>
<path d="M492.4 516.6 l1.4 2.7 l1.4 -2.7z" fill="#3a2456"/>
<path d="M496.7 516.6 l1.4 2.7 l1.4 -2.7z" fill="#3a2456"/>
<path d="M501 516.6 l1.4 2.7 l1.4 -2.7z" fill="#3a2456"/>
<line x1="478.50" y1="516.10" x2="504.40" y2="516.10" stroke="#1a1a1a" stroke-width="1.6" />
<line x1="504.20" y1="516.00" x2="504.20" y2="511.80" stroke="#222" stroke-width="1.1" />
<rect x="0.65" y="0.65" width="518.7" height="558.5" fill="none" stroke="#000" stroke-width="1.3"/>
</g>
</svg>
</body></html>
